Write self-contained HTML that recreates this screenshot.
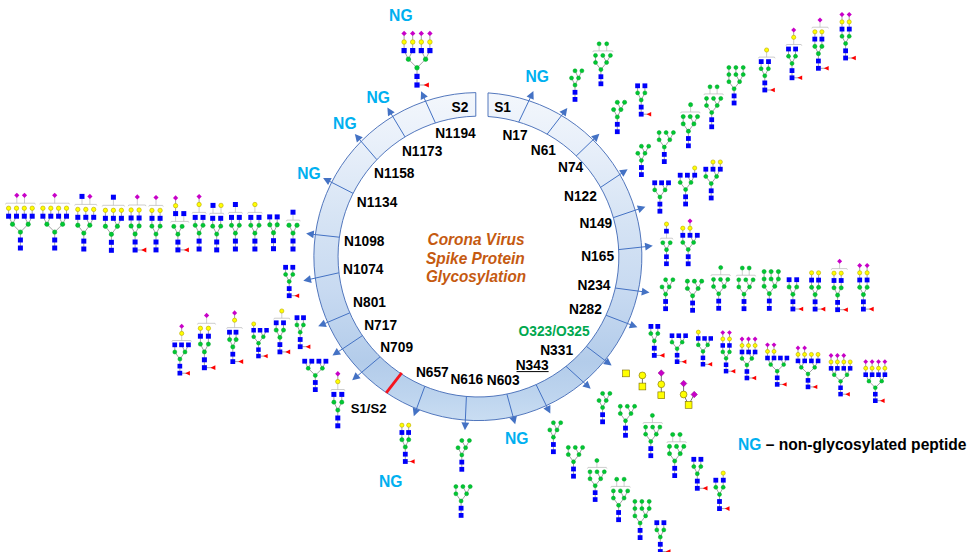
<!DOCTYPE html><html><head><meta charset="utf-8"><style>html,body{margin:0;padding:0;background:#fff;overflow:hidden}svg{display:block}text{font-kerning:none}</style></head><body><svg width="979" height="552" viewBox="0 0 979 552" font-family="'Liberation Sans', sans-serif"><defs><linearGradient id="rg" x1="0" y1="0" x2="0" y2="1"><stop offset="0" stop-color="#f3f7fc"/><stop offset="0.15" stop-color="#e9f0fa"/><stop offset="0.4" stop-color="#d5e3f4"/><stop offset="0.6" stop-color="#c8daf1"/><stop offset="0.82" stop-color="#b3ccea"/><stop offset="0.92" stop-color="#bdd4ee"/><stop offset="1" stop-color="#c9ddf2"/></linearGradient></defs>
<path d="M488 92.9 A164.0 164.0 0 1 1 475.8 92.6 L475.8 116.2 A140.4 140.4 0 1 0 488 116.5 Z" fill="url(#rg)" stroke="#4169b5" stroke-width="0.9" stroke-linejoin="miter"/>
<path d="M435.4 122.9L423.8 97.3" stroke="#4472c4" stroke-width="1"/>
<path d="M421.1 91.2L427.8 96.6L420.7 99.9Z" fill="#4472c4"/>
<path d="M405 136.9L390.9 113.4" stroke="#4472c4" stroke-width="1"/>
<path d="M387.4 107.6L394.7 112.2L388 116.2Z" fill="#4472c4"/>
<path d="M376.8 159.6L359.2 139.1" stroke="#4472c4" stroke-width="1"/>
<path d="M354.8 134.1L362.8 137.3L356.9 142.4Z" fill="#4472c4"/>
<path d="M353 193.3L329 181" stroke="#4472c4" stroke-width="1"/>
<path d="M323.1 177.9L331.7 178L328.1 184.9Z" fill="#4472c4"/>
<path d="M339.2 237.2L312.8 234.3" stroke="#4472c4" stroke-width="1"/>
<path d="M306.1 233.5L314.2 230.5L313.3 238.3Z" fill="#4472c4"/>
<path d="M338.8 272.8L309.9 279.3" stroke="#4472c4" stroke-width="1"/>
<path d="M303.3 280.7L310 275.2L311.7 282.9Z" fill="#4472c4"/>
<path d="M349.7 312.9L324.4 323.7" stroke="#4472c4" stroke-width="1"/>
<path d="M318.2 326.3L323.8 319.7L326.8 326.9Z" fill="#4472c4"/>
<path d="M362.3 335.7L338 351.9" stroke="#4472c4" stroke-width="1"/>
<path d="M332.5 355.6L336.7 348.1L341 354.6Z" fill="#4472c4"/>
<path d="M380 356.9L357.3 376" stroke="#4472c4" stroke-width="1"/>
<path d="M352.2 380.3L355.5 372.3L360.6 378.3Z" fill="#4472c4"/>
<path d="M424.8 386.4L416.1 409.9" stroke="#4472c4" stroke-width="1"/>
<path d="M413.8 416.2L412.8 407.6L420.1 410.3Z" fill="#4472c4"/>
<path d="M466.4 396.5L465.2 423.5" stroke="#4472c4" stroke-width="1"/>
<path d="M464.9 430.2L461.4 422.3L469.2 422.7Z" fill="#4472c4"/>
<path d="M506.9 394.1L513.4 417.8" stroke="#4472c4" stroke-width="1"/>
<path d="M515.2 424.2L509.4 417.9L516.9 415.8Z" fill="#4472c4"/>
<path d="M536.1 384.6L547.3 407.6" stroke="#4472c4" stroke-width="1"/>
<path d="M550.3 413.6L543.4 408.4L550.4 405Z" fill="#4472c4"/>
<path d="M566 366.3L585.8 384.3" stroke="#4472c4" stroke-width="1"/>
<path d="M590.7 388.8L582.4 386.5L587.6 380.7Z" fill="#4472c4"/>
<path d="M586.3 346.3L606.2 361.4" stroke="#4472c4" stroke-width="1"/>
<path d="M611.6 365.4L603.1 363.9L607.8 357.7Z" fill="#4472c4"/>
<path d="M605.9 315.2L631.2 324.9" stroke="#4472c4" stroke-width="1"/>
<path d="M637.4 327.3L628.8 328.2L631.6 320.9Z" fill="#4472c4"/>
<path d="M615.1 288L642.8 291.7" stroke="#4472c4" stroke-width="1"/>
<path d="M649.5 292.6L641.3 295.4L642.4 287.7Z" fill="#4472c4"/>
<path d="M618.5 249.6L646.1 246.6" stroke="#4472c4" stroke-width="1"/>
<path d="M652.8 245.8L645.6 250.5L644.7 242.8Z" fill="#4472c4"/>
<path d="M613.2 217.7L639.1 208.9" stroke="#4472c4" stroke-width="1"/>
<path d="M645.4 206.7L639.4 212.9L636.9 205.5Z" fill="#4472c4"/>
<path d="M600.5 187.4L622.1 173" stroke="#4472c4" stroke-width="1"/>
<path d="M627.6 169.3L623.4 176.8L619.1 170.3Z" fill="#4472c4"/>
<path d="M576.2 156L594.5 138.4" stroke="#4472c4" stroke-width="1"/>
<path d="M599.4 133.8L596.5 141.9L591.1 136.3Z" fill="#4472c4"/>
<path d="M547.1 134.2L563.2 113.4" stroke="#4472c4" stroke-width="1"/>
<path d="M567.3 108.1L565.7 116.6L559.5 111.8Z" fill="#4472c4"/>
<path d="M518.7 122.1L530.6 97.2" stroke="#4472c4" stroke-width="1"/>
<path d="M533.4 91.1L533.7 99.8L526.6 96.4Z" fill="#4472c4"/>
<path d="M401.7 372.8L386.2 392.9" stroke="#f5141e" stroke-width="2.8"/>
<text transform="translate(435.2 138.1) scale(1 1.09)" font-size="13.75" fill="#000" font-weight="bold" text-anchor="start"  >N1194</text>
<text transform="translate(401.9 156.4) scale(1 1.09)" font-size="13.75" fill="#000" font-weight="bold" text-anchor="start"  >N1173</text>
<text transform="translate(374 177.9) scale(1 1.09)" font-size="13.75" fill="#000" font-weight="bold" text-anchor="start"  >N1158</text>
<text transform="translate(356.8 207.2) scale(1 1.09)" font-size="13.75" fill="#000" font-weight="bold" text-anchor="start"  >N1134</text>
<text transform="translate(344 246) scale(1 1.09)" font-size="13.75" fill="#000" font-weight="bold" text-anchor="start"  >N1098</text>
<text transform="translate(343 273.7) scale(1 1.09)" font-size="13.75" fill="#000" font-weight="bold" text-anchor="start"  >N1074</text>
<text transform="translate(353.1 306.9) scale(1 1.09)" font-size="13.75" fill="#000" font-weight="bold" text-anchor="start"  >N801</text>
<text transform="translate(364.2 330.4) scale(1 1.09)" font-size="13.75" fill="#000" font-weight="bold" text-anchor="start"  >N717</text>
<text transform="translate(380.2 351.8) scale(1 1.09)" font-size="13.75" fill="#000" font-weight="bold" text-anchor="start"  >N709</text>
<text transform="translate(415.9 376.6) scale(1 1.09)" font-size="13.75" fill="#000" font-weight="bold" text-anchor="start"  >N657</text>
<text transform="translate(450.4 384.2) scale(1 1.09)" font-size="13.75" fill="#000" font-weight="bold" text-anchor="start"  >N616</text>
<text transform="translate(486.8 384.7) scale(1 1.09)" font-size="13.75" fill="#000" font-weight="bold" text-anchor="start"  >N603</text>
<text transform="translate(515.7 370) scale(1 1.09)" font-size="13.75" fill="#000" font-weight="bold" text-anchor="start"  >N343</text>
<text transform="translate(540.2 354.8) scale(1 1.09)" font-size="13.75" fill="#000" font-weight="bold" text-anchor="start"  >N331</text>
<text transform="translate(569 314) scale(1 1.09)" font-size="13.75" fill="#000" font-weight="bold" text-anchor="start"  >N282</text>
<text transform="translate(577.6 290) scale(1 1.09)" font-size="13.75" fill="#000" font-weight="bold" text-anchor="start"  >N234</text>
<text transform="translate(581.2 260.7) scale(1 1.09)" font-size="13.75" fill="#000" font-weight="bold" text-anchor="start"  >N165</text>
<text transform="translate(579.4 228.4) scale(1 1.09)" font-size="13.75" fill="#000" font-weight="bold" text-anchor="start"  >N149</text>
<text transform="translate(564 200.5) scale(1 1.09)" font-size="13.75" fill="#000" font-weight="bold" text-anchor="start"  >N122</text>
<text transform="translate(558 171.6) scale(1 1.09)" font-size="13.75" fill="#000" font-weight="bold" text-anchor="start"  >N74</text>
<text transform="translate(530.8 154.8) scale(1 1.09)" font-size="13.75" fill="#000" font-weight="bold" text-anchor="start"  >N61</text>
<text transform="translate(502.4 140.3) scale(1 1.09)" font-size="13.75" fill="#000" font-weight="bold" text-anchor="start"  >N17</text>
<text transform="translate(494.2 111.9) scale(1 1.09)" font-size="13.75" fill="#000" font-weight="bold" text-anchor="start"  >S1</text>
<text transform="translate(451.6 111.9) scale(1 1.09)" font-size="13.75" fill="#000" font-weight="bold" text-anchor="start"  >S2</text>
<text transform="translate(350.8 413.1) scale(1 1.0)" font-size="13.1" fill="#000" font-weight="bold" text-anchor="start"  >S1/S2</text>
<path d="M516.5 371.6H548.6" stroke="#000" stroke-width="1"/>
<text transform="translate(518.6 335.7) scale(1 1.09)" font-size="13.75" fill="#00a84f" font-weight="bold" text-anchor="start"  >O323/O325</text>
<text transform="translate(476 244.8) scale(1 1.09)" font-size="15.45" fill="#c55a11" font-weight="bold" text-anchor="middle" font-style="italic" >Corona Virus</text>
<text transform="translate(475.4 263.6) scale(1 1.09)" font-size="15.45" fill="#c55a11" font-weight="bold" text-anchor="middle" font-style="italic" >Spike Protein</text>
<text transform="translate(476 282.4) scale(1 1.09)" font-size="15.28" fill="#c55a11" font-weight="bold" text-anchor="middle" font-style="italic" >Glycosylation</text>
<text transform="translate(389.1 20.5) scale(1 1.03)" font-size="15.65" fill="#00b0f0" font-weight="bold" text-anchor="start"  >NG</text>
<text transform="translate(366.5 103.1) scale(1 1.03)" font-size="15.65" fill="#00b0f0" font-weight="bold" text-anchor="start"  >NG</text>
<text transform="translate(333.1 129.4) scale(1 1.03)" font-size="15.65" fill="#00b0f0" font-weight="bold" text-anchor="start"  >NG</text>
<text transform="translate(297.3 178.9) scale(1 1.03)" font-size="15.65" fill="#00b0f0" font-weight="bold" text-anchor="start"  >NG</text>
<text transform="translate(525.5 82.2) scale(1 1.03)" font-size="15.65" fill="#00b0f0" font-weight="bold" text-anchor="start"  >NG</text>
<text transform="translate(378.9 487) scale(1 1.03)" font-size="15.65" fill="#00b0f0" font-weight="bold" text-anchor="start"  >NG</text>
<text transform="translate(505 444.2) scale(1 1.03)" font-size="15.65" fill="#00b0f0" font-weight="bold" text-anchor="start"  >NG</text>
<text transform="translate(738 450.3) scale(1 1.1)" font-size="15.6" font-weight="bold"><tspan fill="#00b0f0">NG</tspan> – non-glycosylated peptide</text>
<path d="M417 85L417 67.8M417 85L426.3 85M417 67.8L408.4 59.2M417 67.8L425.6 59.2M408.4 59.2L404.1 50.6M404.1 50.6L404.1 33.4M408.4 59.2L412.7 50.6M412.7 50.6L412.7 33.4M425.6 59.2L421.3 50.6M421.3 50.6L421.3 33.4M425.6 59.2L429.9 50.6M429.9 50.6L429.9 33.4" stroke="#8c8c8c" stroke-width="0.8" fill="none"/><rect x="414.4" y="82.4" width="5.2" height="5.2" fill="#0000fa"/><rect x="414.4" y="73.8" width="5.2" height="5.2" fill="#0000fa"/><circle cx="417" cy="67.8" r="2.3" fill="#00c832" stroke="#00a028" stroke-width="0.5"/><path d="M423.7 85L428.9 82.5L428.9 87.5Z" fill="#ff0000"/><rect x="401.5" y="48" width="5.2" height="5.2" fill="#0000fa"/><circle cx="404.1" cy="42" r="2.3" fill="#ffff00" stroke="#b8a800" stroke-width="0.6"/><path d="M404.1 30.7L406.8 33.4L404.1 36.1L401.4 33.4Z" fill="#c800c8"/><rect x="410.1" y="48" width="5.2" height="5.2" fill="#0000fa"/><circle cx="412.7" cy="42" r="2.3" fill="#ffff00" stroke="#b8a800" stroke-width="0.6"/><path d="M412.7 30.7L415.4 33.4L412.7 36.1L410 33.4Z" fill="#c800c8"/><rect x="418.7" y="48" width="5.2" height="5.2" fill="#0000fa"/><circle cx="421.3" cy="42" r="2.3" fill="#ffff00" stroke="#b8a800" stroke-width="0.6"/><path d="M421.3 30.7L424 33.4L421.3 36.1L418.6 33.4Z" fill="#c800c8"/><rect x="427.3" y="48" width="5.2" height="5.2" fill="#0000fa"/><circle cx="429.9" cy="42" r="2.3" fill="#ffff00" stroke="#b8a800" stroke-width="0.6"/><path d="M429.9 30.7L432.6 33.4L429.9 36.1L427.2 33.4Z" fill="#c800c8"/><circle cx="408.4" cy="59.2" r="2.3" fill="#00c832" stroke="#00a028" stroke-width="0.5"/><circle cx="425.6" cy="59.2" r="2.3" fill="#00c832" stroke="#00a028" stroke-width="0.5"/>
<path d="M20.4 248L20.4 232.1M20.4 232.1L12.5 224.2M20.4 232.1L28.2 224.2M12.5 224.2L8.6 216.2M8.6 216.2L8.6 208.2M12.5 224.2L16.5 216.2M16.5 216.2L16.5 208.2M28.2 224.2L24.3 216.2M24.3 216.2L24.3 208.2M28.2 224.2L32.2 216.2M32.2 216.2L32.2 208.2" stroke="#8c8c8c" stroke-width="0.8" fill="none"/><path d="M6.1 203.2L34.7 203.2M6.1 203.2L5.5 204.4M34.7 203.2L35.3 204.4M16.8 203.2L16.8 195.3M24.5 203.2L24.5 195.3" stroke="#b8b8b8" stroke-width="0.7" fill="none"/><rect x="17.9" y="245.5" width="5" height="5" fill="#0000fa"/><rect x="17.9" y="237.5" width="5" height="5" fill="#0000fa"/><circle cx="20.4" cy="232.1" r="2.2" fill="#00c832" stroke="#00a028" stroke-width="0.5"/><rect x="6.1" y="213.7" width="5" height="5" fill="#0000fa"/><circle cx="8.6" cy="208.2" r="2.2" fill="#ffff00" stroke="#b8a800" stroke-width="0.6"/><rect x="14" y="213.7" width="5" height="5" fill="#0000fa"/><circle cx="16.5" cy="208.2" r="2.2" fill="#ffff00" stroke="#b8a800" stroke-width="0.6"/><rect x="21.8" y="213.7" width="5" height="5" fill="#0000fa"/><circle cx="24.3" cy="208.2" r="2.2" fill="#ffff00" stroke="#b8a800" stroke-width="0.6"/><rect x="29.7" y="213.7" width="5" height="5" fill="#0000fa"/><circle cx="32.2" cy="208.2" r="2.2" fill="#ffff00" stroke="#b8a800" stroke-width="0.6"/><circle cx="12.5" cy="224.2" r="2.2" fill="#00c832" stroke="#00a028" stroke-width="0.5"/><circle cx="28.2" cy="224.2" r="2.2" fill="#00c832" stroke="#00a028" stroke-width="0.5"/><path d="M16.8 192.7L19.4 195.3L16.8 197.9L14.2 195.3Z" fill="#c800c8"/><path d="M24.5 192.7L27.1 195.3L24.5 197.9L21.9 195.3Z" fill="#c800c8"/>
<path d="M54.7 248L54.7 232.1M54.7 232.1L46.9 224.2M54.7 232.1L62.6 224.2M46.9 224.2L42.9 216.2M42.9 216.2L42.9 208.2M46.9 224.2L50.8 216.2M50.8 216.2L50.8 208.2M62.6 224.2L58.6 216.2M58.6 216.2L58.6 208.2M62.6 224.2L66.5 216.2M66.5 216.2L66.5 208.2" stroke="#8c8c8c" stroke-width="0.8" fill="none"/><path d="M40.4 203.2L69 203.2M40.4 203.2L39.8 204.4M69 203.2L69.6 204.4M54.7 203.2L54.7 195.3" stroke="#b8b8b8" stroke-width="0.7" fill="none"/><rect x="52.2" y="245.5" width="5" height="5" fill="#0000fa"/><rect x="52.2" y="237.5" width="5" height="5" fill="#0000fa"/><circle cx="54.7" cy="232.1" r="2.2" fill="#00c832" stroke="#00a028" stroke-width="0.5"/><rect x="40.4" y="213.7" width="5" height="5" fill="#0000fa"/><circle cx="42.9" cy="208.2" r="2.2" fill="#ffff00" stroke="#b8a800" stroke-width="0.6"/><rect x="48.3" y="213.7" width="5" height="5" fill="#0000fa"/><circle cx="50.8" cy="208.2" r="2.2" fill="#ffff00" stroke="#b8a800" stroke-width="0.6"/><rect x="56.1" y="213.7" width="5" height="5" fill="#0000fa"/><circle cx="58.6" cy="208.2" r="2.2" fill="#ffff00" stroke="#b8a800" stroke-width="0.6"/><rect x="64" y="213.7" width="5" height="5" fill="#0000fa"/><circle cx="66.5" cy="208.2" r="2.2" fill="#ffff00" stroke="#b8a800" stroke-width="0.6"/><circle cx="46.9" cy="224.2" r="2.2" fill="#00c832" stroke="#00a028" stroke-width="0.5"/><circle cx="62.6" cy="224.2" r="2.2" fill="#00c832" stroke="#00a028" stroke-width="0.5"/><path d="M54.7 192.7L57.3 195.3L54.7 197.9L52.1 195.3Z" fill="#c800c8"/>
<path d="M83.8 249L83.8 233.1M83.8 233.1L77.8 225.2M83.8 233.1L89.8 225.2M77.8 225.2L77.8 217.3M77.8 217.3L77.8 209.4M89.8 225.2L85.8 217.3M85.8 217.3L85.8 209.4M89.8 225.2L93.7 217.3M93.7 217.3L93.7 209.4" stroke="#8c8c8c" stroke-width="0.8" fill="none"/><path d="M75.3 204.4L96.3 204.4M75.3 204.4L74.7 205.6M96.3 204.4L96.9 205.6M82 204.4L82 196.4M89.9 204.4L89.9 196.4" stroke="#b8b8b8" stroke-width="0.7" fill="none"/><rect x="81.3" y="246.5" width="5" height="5" fill="#0000fa"/><rect x="81.3" y="238.6" width="5" height="5" fill="#0000fa"/><circle cx="83.8" cy="233.1" r="2.2" fill="#00c832" stroke="#00a028" stroke-width="0.5"/><rect x="75.3" y="214.8" width="5" height="5" fill="#0000fa"/><circle cx="77.8" cy="209.4" r="2.2" fill="#ffff00" stroke="#b8a800" stroke-width="0.6"/><rect x="83.3" y="214.8" width="5" height="5" fill="#0000fa"/><circle cx="85.8" cy="209.4" r="2.2" fill="#ffff00" stroke="#b8a800" stroke-width="0.6"/><rect x="91.2" y="214.8" width="5" height="5" fill="#0000fa"/><circle cx="93.7" cy="209.4" r="2.2" fill="#ffff00" stroke="#b8a800" stroke-width="0.6"/><circle cx="77.8" cy="225.2" r="2.2" fill="#00c832" stroke="#00a028" stroke-width="0.5"/><circle cx="89.8" cy="225.2" r="2.2" fill="#00c832" stroke="#00a028" stroke-width="0.5"/><rect x="79.5" y="193.9" width="5" height="5" fill="#0000fa"/><path d="M89.9 193.8L92.5 196.4L89.9 199.1L87.3 196.4Z" fill="#c800c8"/>
<path d="M111.4 250.3L111.4 234.3M111.4 234.3L105.4 226.3M111.4 234.3L117.4 226.3M105.4 226.3L105.4 218.3M105.4 218.3L105.4 210.3M117.4 226.3L113.4 218.3M113.4 218.3L113.4 210.3M117.4 226.3L121.4 218.3M121.4 218.3L121.4 210.3" stroke="#8c8c8c" stroke-width="0.8" fill="none"/><path d="M102.8 205.3L124 205.3M102.8 205.3L102.2 206.5M124 205.3L124.6 206.5M113.4 205.3L113.4 197.3" stroke="#b8b8b8" stroke-width="0.7" fill="none"/><rect x="108.9" y="247.8" width="5" height="5" fill="#0000fa"/><rect x="108.9" y="239.8" width="5" height="5" fill="#0000fa"/><circle cx="111.4" cy="234.3" r="2.2" fill="#00c832" stroke="#00a028" stroke-width="0.5"/><rect x="102.9" y="215.8" width="5" height="5" fill="#0000fa"/><circle cx="105.4" cy="210.3" r="2.2" fill="#ffff00" stroke="#b8a800" stroke-width="0.6"/><rect x="110.9" y="215.8" width="5" height="5" fill="#0000fa"/><circle cx="113.4" cy="210.3" r="2.2" fill="#ffff00" stroke="#b8a800" stroke-width="0.6"/><rect x="118.9" y="215.8" width="5" height="5" fill="#0000fa"/><circle cx="121.4" cy="210.3" r="2.2" fill="#ffff00" stroke="#b8a800" stroke-width="0.6"/><circle cx="105.4" cy="226.3" r="2.2" fill="#00c832" stroke="#00a028" stroke-width="0.5"/><circle cx="117.4" cy="226.3" r="2.2" fill="#00c832" stroke="#00a028" stroke-width="0.5"/><rect x="110.9" y="194.7" width="5" height="5" fill="#0000fa"/>
<path d="M135.1 250L135.1 234M135.1 250L143.7 250M135.1 234L131.1 226M135.1 234L139.1 226M131.1 226L131.1 218M131.1 218L131.1 210M139.1 226L139.1 218M139.1 218L139.1 210" stroke="#8c8c8c" stroke-width="0.8" fill="none"/><path d="M128.8 205L145.4 205M128.8 205L128.2 206.2M145.4 205L146 206.2M137.3 205L137.3 197" stroke="#b8b8b8" stroke-width="0.7" fill="none"/><rect x="132.6" y="247.5" width="5" height="5" fill="#0000fa"/><rect x="132.6" y="239.5" width="5" height="5" fill="#0000fa"/><circle cx="135.1" cy="234" r="2.2" fill="#00c832" stroke="#00a028" stroke-width="0.5"/><path d="M141.2 250L146.3 247.6L146.3 252.4Z" fill="#ff0000"/><rect x="128.6" y="215.5" width="5" height="5" fill="#0000fa"/><circle cx="131.1" cy="210" r="2.2" fill="#ffff00" stroke="#b8a800" stroke-width="0.6"/><rect x="136.6" y="215.5" width="5" height="5" fill="#0000fa"/><circle cx="139.1" cy="210" r="2.2" fill="#ffff00" stroke="#b8a800" stroke-width="0.6"/><circle cx="131.1" cy="226" r="2.2" fill="#00c832" stroke="#00a028" stroke-width="0.5"/><circle cx="139.1" cy="226" r="2.2" fill="#00c832" stroke="#00a028" stroke-width="0.5"/><path d="M137.3 194.3L139.9 197L137.3 199.6L134.7 197Z" fill="#c800c8"/>
<path d="M156 249.9L156 234.1M156 234.1L151.9 226.2M156 234.1L160.1 226.2M151.9 226.2L151.9 218.3M151.9 218.3L151.9 210.4M160.1 226.2L160.1 218.3M160.1 218.3L160.1 210.4" stroke="#8c8c8c" stroke-width="0.8" fill="none"/><path d="M149.4 205.4L162.6 205.4M149.4 205.4L148.8 206.6M162.6 205.4L163.2 206.6M156 205.4L156 197.5" stroke="#b8b8b8" stroke-width="0.7" fill="none"/><rect x="153.5" y="247.4" width="5" height="5" fill="#0000fa"/><rect x="153.5" y="239.5" width="5" height="5" fill="#0000fa"/><circle cx="156" cy="234.1" r="2.1" fill="#00c832" stroke="#00a028" stroke-width="0.5"/><rect x="149.5" y="215.8" width="5" height="5" fill="#0000fa"/><circle cx="151.9" cy="210.4" r="2.2" fill="#ffff00" stroke="#b8a800" stroke-width="0.6"/><rect x="157.6" y="215.8" width="5" height="5" fill="#0000fa"/><circle cx="160.1" cy="210.4" r="2.2" fill="#ffff00" stroke="#b8a800" stroke-width="0.6"/><circle cx="151.9" cy="226.2" r="2.1" fill="#00c832" stroke="#00a028" stroke-width="0.5"/><circle cx="160.1" cy="226.2" r="2.1" fill="#00c832" stroke="#00a028" stroke-width="0.5"/><path d="M156 194.9L158.6 197.5L156 200.1L153.4 197.5Z" fill="#c800c8"/>
<path d="M177.9 249.9L177.9 234.2M177.9 249.9L186.4 249.9M177.9 234.2L173.8 226.4M177.9 234.2L182.1 226.4M175.6 213.6L175.6 197.9" stroke="#8c8c8c" stroke-width="0.8" fill="none"/><path d="M171.3 221.4L188.3 221.4M171.3 221.4L170.7 222.6M188.3 221.4L188.9 222.6M175.6 221.4L175.6 213.6M183.8 221.4L183.8 213.6" stroke="#b8b8b8" stroke-width="0.7" fill="none"/><rect x="175.4" y="247.4" width="5" height="5" fill="#0000fa"/><rect x="175.4" y="239.6" width="5" height="5" fill="#0000fa"/><circle cx="177.9" cy="234.2" r="2.1" fill="#00c832" stroke="#00a028" stroke-width="0.5"/><path d="M183.9 249.9L188.9 247.5L188.9 252.3Z" fill="#ff0000"/><circle cx="173.8" cy="226.4" r="2.1" fill="#00c832" stroke="#00a028" stroke-width="0.5"/><circle cx="182.1" cy="226.4" r="2.1" fill="#00c832" stroke="#00a028" stroke-width="0.5"/><rect x="173.1" y="211.1" width="5" height="5" fill="#0000fa"/><circle cx="175.6" cy="205.7" r="2.2" fill="#ffff00" stroke="#b8a800" stroke-width="0.6"/><path d="M175.6 195.2L178.2 197.9L175.6 200.5L173 197.9Z" fill="#c800c8"/><rect x="181.3" y="211.1" width="5" height="5" fill="#0000fa"/>
<path d="M199.1 249L199.1 233.2M199.1 233.2L195.2 225.3M199.1 233.2L203 225.3M195.2 225.3L195.2 217.4M203 225.3L203 217.4M199.1 204.5L199.1 196.6" stroke="#8c8c8c" stroke-width="0.8" fill="none"/><path d="M192.7 212.4L205.5 212.4M192.7 212.4L192.1 213.6M205.5 212.4L206.1 213.6M199.1 212.4L199.1 204.5" stroke="#b8b8b8" stroke-width="0.7" fill="none"/><rect x="196.6" y="246.5" width="5" height="5" fill="#0000fa"/><rect x="196.6" y="238.6" width="5" height="5" fill="#0000fa"/><circle cx="199.1" cy="233.2" r="2.1" fill="#00c832" stroke="#00a028" stroke-width="0.5"/><rect x="192.7" y="214.9" width="5" height="5" fill="#0000fa"/><rect x="200.5" y="214.9" width="5" height="5" fill="#0000fa"/><circle cx="195.2" cy="225.3" r="2.1" fill="#00c832" stroke="#00a028" stroke-width="0.5"/><circle cx="203" cy="225.3" r="2.1" fill="#00c832" stroke="#00a028" stroke-width="0.5"/><circle cx="199.1" cy="204.5" r="2.2" fill="#ffff00" stroke="#b8a800" stroke-width="0.6"/><path d="M199.1 194L201.7 196.6L199.1 199.2L196.5 196.6Z" fill="#c800c8"/>
<path d="M216.7 249.9L216.7 234.1M216.7 234.1L212.7 226.2M216.7 234.1L220.7 226.2M212.7 226.2L212.7 218.3M220.7 226.2L220.7 218.3" stroke="#8c8c8c" stroke-width="0.8" fill="none"/><path d="M210.1 213.3L223.3 213.3M210.1 213.3L209.5 214.5M223.3 213.3L223.9 214.5M213 213.3L213 205.4M221 213.3L221 205.4" stroke="#b8b8b8" stroke-width="0.7" fill="none"/><rect x="214.2" y="247.4" width="5" height="5" fill="#0000fa"/><rect x="214.2" y="239.5" width="5" height="5" fill="#0000fa"/><circle cx="216.7" cy="234.1" r="2.1" fill="#00c832" stroke="#00a028" stroke-width="0.5"/><rect x="210.2" y="215.8" width="5" height="5" fill="#0000fa"/><rect x="218.2" y="215.8" width="5" height="5" fill="#0000fa"/><circle cx="212.7" cy="226.2" r="2.1" fill="#00c832" stroke="#00a028" stroke-width="0.5"/><circle cx="220.7" cy="226.2" r="2.1" fill="#00c832" stroke="#00a028" stroke-width="0.5"/><rect x="210.5" y="202.9" width="5" height="5" fill="#0000fa"/><circle cx="221" cy="205.4" r="2.2" fill="#ffff00" stroke="#b8a800" stroke-width="0.6"/>
<path d="M235.4 249L235.4 233.2M235.4 233.2L231.5 225.3M235.4 233.2L239.3 225.3M231.5 225.3L231.5 217.4M239.3 225.3L239.3 217.4" stroke="#8c8c8c" stroke-width="0.8" fill="none"/><path d="M229 212.4L241.8 212.4M229 212.4L228.4 213.6M241.8 212.4L242.4 213.6M235.4 212.4L235.4 204.5" stroke="#b8b8b8" stroke-width="0.7" fill="none"/><rect x="232.9" y="246.5" width="5" height="5" fill="#0000fa"/><rect x="232.9" y="238.6" width="5" height="5" fill="#0000fa"/><circle cx="235.4" cy="233.2" r="2.1" fill="#00c832" stroke="#00a028" stroke-width="0.5"/><rect x="229" y="214.9" width="5" height="5" fill="#0000fa"/><rect x="236.8" y="214.9" width="5" height="5" fill="#0000fa"/><circle cx="231.5" cy="225.3" r="2.1" fill="#00c832" stroke="#00a028" stroke-width="0.5"/><circle cx="239.3" cy="225.3" r="2.1" fill="#00c832" stroke="#00a028" stroke-width="0.5"/><rect x="232.9" y="202" width="5" height="5" fill="#0000fa"/>
<path d="M254.9 249L254.9 233.2M254.9 233.2L250.8 225.3M254.9 233.2L259 225.3M250.8 225.3L250.8 217.4M259 225.3L259 217.4" stroke="#8c8c8c" stroke-width="0.8" fill="none"/><path d="M248.2 212.4L261.6 212.4M248.2 212.4L247.6 213.6M261.6 212.4L262.2 213.6M254.9 212.4L254.9 204.5" stroke="#b8b8b8" stroke-width="0.7" fill="none"/><rect x="252.4" y="246.5" width="5" height="5" fill="#0000fa"/><rect x="252.4" y="238.6" width="5" height="5" fill="#0000fa"/><circle cx="254.9" cy="233.2" r="2.1" fill="#00c832" stroke="#00a028" stroke-width="0.5"/><rect x="248.3" y="214.9" width="5" height="5" fill="#0000fa"/><rect x="256.5" y="214.9" width="5" height="5" fill="#0000fa"/><circle cx="250.8" cy="225.3" r="2.1" fill="#00c832" stroke="#00a028" stroke-width="0.5"/><circle cx="259" cy="225.3" r="2.1" fill="#00c832" stroke="#00a028" stroke-width="0.5"/><circle cx="254.9" cy="204.5" r="2.2" fill="#ffff00" stroke="#b8a800" stroke-width="0.6"/>
<path d="M273.5 248.7L273.5 232.8M273.5 232.8L269.8 224.8M273.5 232.8L277.2 224.8M269.8 224.8L269.8 216.9M277.2 224.8L277.2 216.9" stroke="#8c8c8c" stroke-width="0.8" fill="none"/><rect x="271" y="246.2" width="5" height="5" fill="#0000fa"/><rect x="271" y="238.2" width="5" height="5" fill="#0000fa"/><circle cx="273.5" cy="232.8" r="2.2" fill="#00c832" stroke="#00a028" stroke-width="0.5"/><rect x="267.2" y="214.4" width="5" height="5" fill="#0000fa"/><rect x="274.7" y="214.4" width="5" height="5" fill="#0000fa"/><circle cx="269.8" cy="224.8" r="2.2" fill="#00c832" stroke="#00a028" stroke-width="0.5"/><circle cx="277.2" cy="224.8" r="2.2" fill="#00c832" stroke="#00a028" stroke-width="0.5"/>
<path d="M293 249L293 233.1M293 233.1L289 225.2M293 233.1L297 225.2" stroke="#8c8c8c" stroke-width="0.8" fill="none"/><path d="M286.9 220.1L299.6 220.1M286.9 220.1L286.3 221.3M299.6 220.1L300.2 221.3M293 220.1L293 212.2" stroke="#b8b8b8" stroke-width="0.7" fill="none"/><rect x="290.5" y="246.5" width="5" height="5" fill="#0000fa"/><rect x="290.5" y="238.5" width="5" height="5" fill="#0000fa"/><circle cx="293" cy="233.1" r="2.2" fill="#00c832" stroke="#00a028" stroke-width="0.5"/><circle cx="289" cy="225.2" r="2.2" fill="#00c832" stroke="#00a028" stroke-width="0.5"/><circle cx="297" cy="225.2" r="2.2" fill="#00c832" stroke="#00a028" stroke-width="0.5"/><rect x="290.5" y="209.7" width="5" height="5" fill="#0000fa"/>
<path d="M289.2 295.7L289.2 281.5M289.2 295.7L296.9 295.7M289.2 281.5L285.6 274.4M289.2 281.5L292.8 274.4M285.6 274.4L285.6 267.3M292.8 274.4L292.8 267.3" stroke="#8c8c8c" stroke-width="0.8" fill="none"/><rect x="286.8" y="293.3" width="4.8" height="4.8" fill="#0000fa"/><rect x="286.8" y="286.2" width="4.8" height="4.8" fill="#0000fa"/><circle cx="289.2" cy="281.5" r="2" fill="#00c832" stroke="#00a028" stroke-width="0.5"/><path d="M294.5 295.7L299.2 293.4L299.2 298Z" fill="#ff0000"/><rect x="283.2" y="264.9" width="4.8" height="4.8" fill="#0000fa"/><rect x="290.4" y="264.9" width="4.8" height="4.8" fill="#0000fa"/><circle cx="285.6" cy="274.4" r="2" fill="#00c832" stroke="#00a028" stroke-width="0.5"/><circle cx="292.8" cy="274.4" r="2" fill="#00c832" stroke="#00a028" stroke-width="0.5"/>
<path d="M300.2 346.7L300.2 332.2M300.2 346.7L308 346.7M300.2 332.2L296.9 324.9M300.2 332.2L303.4 324.9M296.9 324.9L296.9 317.7M303.4 324.9L303.4 317.7" stroke="#8c8c8c" stroke-width="0.8" fill="none"/><rect x="297.8" y="344.3" width="4.8" height="4.8" fill="#0000fa"/><rect x="297.8" y="337.1" width="4.8" height="4.8" fill="#0000fa"/><circle cx="300.2" cy="332.2" r="2" fill="#00c832" stroke="#00a028" stroke-width="0.5"/><path d="M305.6 346.7L310.4 344.4L310.4 349Z" fill="#ff0000"/><rect x="294.6" y="315.3" width="4.8" height="4.8" fill="#0000fa"/><rect x="301.1" y="315.3" width="4.8" height="4.8" fill="#0000fa"/><circle cx="296.9" cy="324.9" r="2" fill="#00c832" stroke="#00a028" stroke-width="0.5"/><circle cx="303.4" cy="324.9" r="2" fill="#00c832" stroke="#00a028" stroke-width="0.5"/>
<path d="M279.9 351.9L279.9 337.4M279.9 351.9L287.8 351.9M279.9 337.4L276.2 330.1M279.9 337.4L283.5 330.1M276.2 330.1L276.2 322.8M283.5 330.1L283.5 322.8" stroke="#8c8c8c" stroke-width="0.8" fill="none"/><path d="M274.4 318.2L289.3 318.2M274.4 318.2L273.8 319.4M289.3 318.2L289.9 319.4M281.8 318.2L281.8 311" stroke="#b8b8b8" stroke-width="0.7" fill="none"/><rect x="277.5" y="349.5" width="4.8" height="4.8" fill="#0000fa"/><rect x="277.5" y="342.2" width="4.8" height="4.8" fill="#0000fa"/><circle cx="279.9" cy="337.4" r="2.1" fill="#00c832" stroke="#00a028" stroke-width="0.5"/><path d="M285.3 351.9L290.2 349.6L290.2 354.2Z" fill="#ff0000"/><rect x="273.8" y="320.4" width="4.8" height="4.8" fill="#0000fa"/><rect x="281.1" y="320.4" width="4.8" height="4.8" fill="#0000fa"/><circle cx="276.2" cy="330.1" r="2.1" fill="#00c832" stroke="#00a028" stroke-width="0.5"/><circle cx="283.5" cy="330.1" r="2.1" fill="#00c832" stroke="#00a028" stroke-width="0.5"/><circle cx="281.8" cy="311" r="2.1" fill="#ffff00" stroke="#b8a800" stroke-width="0.6"/>
<path d="M258.5 356.1L258.5 343.2M258.5 356.1L265.5 356.1M258.5 343.2L253.7 336.8M258.5 343.2L263.3 336.8M253.7 336.8L253.7 330.3M253.7 330.3L253.7 323.9M263.3 336.8L260.1 330.3M263.3 336.8L266.6 330.3" stroke="#8c8c8c" stroke-width="0.8" fill="none"/><rect x="256.2" y="353.8" width="4.5" height="4.5" fill="#0000fa"/><rect x="256.2" y="347.4" width="4.5" height="4.5" fill="#0000fa"/><circle cx="258.5" cy="343.2" r="1.9" fill="#00c832" stroke="#00a028" stroke-width="0.5"/><path d="M263.2 356.1L267.7 353.9L267.7 358.3Z" fill="#ff0000"/><rect x="251.4" y="328" width="4.5" height="4.5" fill="#0000fa"/><circle cx="253.7" cy="323.9" r="2" fill="#ffff00" stroke="#b8a800" stroke-width="0.6"/><rect x="257.8" y="328" width="4.5" height="4.5" fill="#0000fa"/><rect x="264.3" y="328" width="4.5" height="4.5" fill="#0000fa"/><circle cx="253.7" cy="336.8" r="1.9" fill="#00c832" stroke="#00a028" stroke-width="0.5"/><circle cx="263.3" cy="336.8" r="1.9" fill="#00c832" stroke="#00a028" stroke-width="0.5"/>
<path d="M232.8 361.6L232.8 346.9M232.8 361.6L240.7 361.6M232.8 346.9L229.6 339.6M232.8 346.9L236.1 339.6M229.6 339.6L229.6 332.2M236.1 339.6L236.1 332.2M234.6 320.2L234.6 312.9" stroke="#8c8c8c" stroke-width="0.8" fill="none"/><path d="M227.3 327.6L241.8 327.6M227.3 327.6L226.7 328.8M241.8 327.6L242.4 328.8M234.6 327.6L234.6 320.2" stroke="#b8b8b8" stroke-width="0.7" fill="none"/><rect x="230.4" y="359.2" width="4.8" height="4.8" fill="#0000fa"/><rect x="230.4" y="351.8" width="4.8" height="4.8" fill="#0000fa"/><circle cx="232.8" cy="346.9" r="2.1" fill="#00c832" stroke="#00a028" stroke-width="0.5"/><path d="M238.3 361.6L243.2 359.3L243.2 363.9Z" fill="#ff0000"/><rect x="227.1" y="329.8" width="4.8" height="4.8" fill="#0000fa"/><rect x="233.6" y="329.8" width="4.8" height="4.8" fill="#0000fa"/><circle cx="229.6" cy="339.6" r="2.1" fill="#00c832" stroke="#00a028" stroke-width="0.5"/><circle cx="236.1" cy="339.6" r="2.1" fill="#00c832" stroke="#00a028" stroke-width="0.5"/><circle cx="234.6" cy="320.2" r="2.1" fill="#ffff00" stroke="#b8a800" stroke-width="0.6"/><path d="M234.6 310.3L237.1 312.9L234.6 315.4L232.1 312.9Z" fill="#c800c8"/>
<path d="M204.4 367.7L204.4 351.9M204.4 367.7L212.9 367.7M204.4 351.9L200.4 344.1M204.4 351.9L208.4 344.1M200.4 344.1L200.4 336.2M200.4 336.2L200.4 328.3M208.4 344.1L208.4 336.2M208.4 336.2L208.4 328.3" stroke="#8c8c8c" stroke-width="0.8" fill="none"/><path d="M198 323.3L215 323.3M198 323.3L197.4 324.5M215 323.3L215.6 324.5M206.6 323.3L206.6 315.5" stroke="#b8b8b8" stroke-width="0.7" fill="none"/><rect x="201.9" y="365.2" width="5" height="5" fill="#0000fa"/><rect x="201.9" y="357.3" width="5" height="5" fill="#0000fa"/><circle cx="204.4" cy="351.9" r="2.1" fill="#00c832" stroke="#00a028" stroke-width="0.5"/><path d="M210.4 367.7L215.4 365.3L215.4 370.1Z" fill="#ff0000"/><rect x="197.9" y="333.7" width="5" height="5" fill="#0000fa"/><circle cx="200.4" cy="328.3" r="2.2" fill="#ffff00" stroke="#b8a800" stroke-width="0.6"/><rect x="205.9" y="333.7" width="5" height="5" fill="#0000fa"/><circle cx="208.4" cy="328.3" r="2.2" fill="#ffff00" stroke="#b8a800" stroke-width="0.6"/><circle cx="200.4" cy="344.1" r="2.1" fill="#00c832" stroke="#00a028" stroke-width="0.5"/><circle cx="208.4" cy="344.1" r="2.1" fill="#00c832" stroke="#00a028" stroke-width="0.5"/><path d="M206.6 312.8L209.2 315.5L206.6 318.1L204 315.5Z" fill="#c800c8"/>
<path d="M179.9 373.2L179.9 359.1M179.9 373.2L187.5 373.2M179.9 359.1L174.8 352M179.9 359.1L185 352M174.8 352L174.8 344.9M185 352L181.6 344.9M185 352L188.5 344.9M181.7 333.4L181.7 326.3" stroke="#8c8c8c" stroke-width="0.8" fill="none"/><path d="M172.5 340.5L190.8 340.5M172.5 340.5L171.9 341.7M190.8 340.5L191.4 341.7M181.7 340.5L181.7 333.4" stroke="#b8b8b8" stroke-width="0.7" fill="none"/><rect x="177.5" y="370.8" width="4.7" height="4.7" fill="#0000fa"/><rect x="177.5" y="363.8" width="4.7" height="4.7" fill="#0000fa"/><circle cx="179.9" cy="359.1" r="2" fill="#00c832" stroke="#00a028" stroke-width="0.5"/><path d="M185.2 373.2L189.9 370.9L189.9 375.5Z" fill="#ff0000"/><rect x="172.4" y="342.5" width="4.7" height="4.7" fill="#0000fa"/><rect x="179.2" y="342.5" width="4.7" height="4.7" fill="#0000fa"/><rect x="186.1" y="342.5" width="4.7" height="4.7" fill="#0000fa"/><circle cx="174.8" cy="352" r="2" fill="#00c832" stroke="#00a028" stroke-width="0.5"/><circle cx="185" cy="352" r="2" fill="#00c832" stroke="#00a028" stroke-width="0.5"/><circle cx="181.7" cy="333.4" r="2.1" fill="#ffff00" stroke="#b8a800" stroke-width="0.6"/><path d="M181.7 323.8L184.2 326.3L181.7 328.8L179.2 326.3Z" fill="#c800c8"/>
<path d="M315.3 389.6L315.3 375.4M315.3 375.4L308.2 368.3M315.3 375.4L322.4 368.3M308.2 368.3L304.7 361.2M308.2 368.3L311.8 361.2M322.4 368.3L318.8 361.2M322.4 368.3L325.9 361.2" stroke="#8c8c8c" stroke-width="0.8" fill="none"/><rect x="312.9" y="387.2" width="4.8" height="4.8" fill="#0000fa"/><rect x="312.9" y="380.1" width="4.8" height="4.8" fill="#0000fa"/><circle cx="315.3" cy="375.4" r="2" fill="#00c832" stroke="#00a028" stroke-width="0.5"/><rect x="302.3" y="358.8" width="4.8" height="4.8" fill="#0000fa"/><rect x="309.4" y="358.8" width="4.8" height="4.8" fill="#0000fa"/><rect x="316.5" y="358.8" width="4.8" height="4.8" fill="#0000fa"/><rect x="323.5" y="358.8" width="4.8" height="4.8" fill="#0000fa"/><circle cx="308.2" cy="368.3" r="2" fill="#00c832" stroke="#00a028" stroke-width="0.5"/><circle cx="322.4" cy="368.3" r="2" fill="#00c832" stroke="#00a028" stroke-width="0.5"/>
<path d="M337.8 425.8L337.8 410.1M337.8 410.1L333.9 402.2M337.8 410.1L341.8 402.2M333.9 402.2L333.9 394.4M341.8 402.2L341.8 394.4M337.8 381.6L337.8 373.8" stroke="#8c8c8c" stroke-width="0.8" fill="none"/><path d="M331.6 389.5L344.3 389.5M331.6 389.5L331 390.7M344.3 389.5L344.9 390.7M337.8 389.5L337.8 381.6" stroke="#b8b8b8" stroke-width="0.7" fill="none"/><rect x="335.3" y="423.3" width="5" height="5" fill="#0000fa"/><rect x="335.3" y="415.5" width="5" height="5" fill="#0000fa"/><circle cx="337.8" cy="410.1" r="2.1" fill="#00c832" stroke="#00a028" stroke-width="0.5"/><rect x="331.4" y="391.9" width="5" height="5" fill="#0000fa"/><rect x="339.3" y="391.9" width="5" height="5" fill="#0000fa"/><circle cx="333.9" cy="402.2" r="2.1" fill="#00c832" stroke="#00a028" stroke-width="0.5"/><circle cx="341.8" cy="402.2" r="2.1" fill="#00c832" stroke="#00a028" stroke-width="0.5"/><circle cx="337.8" cy="381.6" r="2.2" fill="#ffff00" stroke="#b8a800" stroke-width="0.6"/><path d="M337.8 371.1L340.4 373.8L337.8 376.4L335.2 373.8Z" fill="#c800c8"/>
<path d="M405.3 461.5L405.3 447M405.3 461.5L412.2 461.5M405.3 447L401.9 439.7M405.3 447L408.7 439.7M401.9 439.7L401.9 432.5M401.9 432.5L401.9 425.2M408.7 439.7L408.7 432.5M408.7 432.5L408.7 425.2" stroke="#8c8c8c" stroke-width="0.8" fill="none"/><rect x="402.9" y="459.1" width="4.8" height="4.8" fill="#0000fa"/><rect x="402.9" y="451.8" width="4.8" height="4.8" fill="#0000fa"/><circle cx="405.3" cy="447" r="2.1" fill="#00c832" stroke="#00a028" stroke-width="0.5"/><path d="M409.8 461.5L414.6 459.2L414.6 463.8Z" fill="#ff0000"/><rect x="399.5" y="430.1" width="4.8" height="4.8" fill="#0000fa"/><circle cx="401.9" cy="425.2" r="2.1" fill="#ffff00" stroke="#b8a800" stroke-width="0.6"/><rect x="406.2" y="430.1" width="4.8" height="4.8" fill="#0000fa"/><circle cx="408.7" cy="425.2" r="2.1" fill="#ffff00" stroke="#b8a800" stroke-width="0.6"/><circle cx="401.9" cy="439.7" r="2.1" fill="#00c832" stroke="#00a028" stroke-width="0.5"/><circle cx="408.7" cy="439.7" r="2.1" fill="#00c832" stroke="#00a028" stroke-width="0.5"/>
<path d="M461.8 469.3L461.8 454.9M461.8 454.9L458 447.7M461.8 454.9L465.6 447.7M465.6 447.7L461.8 440.5M465.6 447.7L469.4 440.5" stroke="#8c8c8c" stroke-width="0.8" fill="none"/><rect x="459.4" y="466.9" width="4.8" height="4.8" fill="#0000fa"/><rect x="459.4" y="459.7" width="4.8" height="4.8" fill="#0000fa"/><circle cx="461.8" cy="454.9" r="2" fill="#00c832" stroke="#00a028" stroke-width="0.5"/><circle cx="458" cy="447.7" r="2" fill="#00c832" stroke="#00a028" stroke-width="0.5"/><circle cx="465.6" cy="447.7" r="2" fill="#00c832" stroke="#00a028" stroke-width="0.5"/><circle cx="461.8" cy="440.5" r="2" fill="#00c832" stroke="#00a028" stroke-width="0.5"/><circle cx="469.4" cy="440.5" r="2" fill="#00c832" stroke="#00a028" stroke-width="0.5"/>
<path d="M461.1 515.4L461.1 501M461.1 501L455.9 493.8M461.1 501L466.6 493.8M455.9 493.8L455.9 486.6M466.6 493.8L462.9 486.6M466.6 493.8L470.2 486.6" stroke="#8c8c8c" stroke-width="0.8" fill="none"/><rect x="458.7" y="513" width="4.8" height="4.8" fill="#0000fa"/><rect x="458.7" y="505.8" width="4.8" height="4.8" fill="#0000fa"/><circle cx="461.1" cy="501" r="2" fill="#00c832" stroke="#00a028" stroke-width="0.5"/><circle cx="455.9" cy="493.8" r="2" fill="#00c832" stroke="#00a028" stroke-width="0.5"/><circle cx="466.6" cy="493.8" r="2" fill="#00c832" stroke="#00a028" stroke-width="0.5"/><circle cx="455.9" cy="486.6" r="2" fill="#00c832" stroke="#00a028" stroke-width="0.5"/><circle cx="462.9" cy="486.6" r="2" fill="#00c832" stroke="#00a028" stroke-width="0.5"/><circle cx="470.2" cy="486.6" r="2" fill="#00c832" stroke="#00a028" stroke-width="0.5"/>
<path d="M553.4 451.7L553.4 437.2M553.4 437.2L549.8 429.9M553.4 437.2L557 429.9M557 429.9L553.4 422.7M557 429.9L560.7 422.7" stroke="#8c8c8c" stroke-width="0.8" fill="none"/><rect x="551" y="449.3" width="4.8" height="4.8" fill="#0000fa"/><rect x="551" y="442.1" width="4.8" height="4.8" fill="#0000fa"/><circle cx="553.4" cy="437.2" r="2" fill="#00c832" stroke="#00a028" stroke-width="0.5"/><circle cx="549.8" cy="429.9" r="2" fill="#00c832" stroke="#00a028" stroke-width="0.5"/><circle cx="557" cy="429.9" r="2" fill="#00c832" stroke="#00a028" stroke-width="0.5"/><circle cx="553.4" cy="422.7" r="2" fill="#00c832" stroke="#00a028" stroke-width="0.5"/><circle cx="560.7" cy="422.7" r="2" fill="#00c832" stroke="#00a028" stroke-width="0.5"/>
<path d="M573.5 476.2L573.5 461.8M573.5 461.8L568.3 454.6M573.5 461.8L579 454.6M568.3 454.6L568.3 447.4M579 454.6L575.3 447.4M579 454.6L582.6 447.4" stroke="#8c8c8c" stroke-width="0.8" fill="none"/><rect x="571.1" y="473.8" width="4.8" height="4.8" fill="#0000fa"/><rect x="571.1" y="466.6" width="4.8" height="4.8" fill="#0000fa"/><circle cx="573.5" cy="461.8" r="2" fill="#00c832" stroke="#00a028" stroke-width="0.5"/><circle cx="568.3" cy="454.6" r="2" fill="#00c832" stroke="#00a028" stroke-width="0.5"/><circle cx="579" cy="454.6" r="2" fill="#00c832" stroke="#00a028" stroke-width="0.5"/><circle cx="568.3" cy="447.4" r="2" fill="#00c832" stroke="#00a028" stroke-width="0.5"/><circle cx="575.3" cy="447.4" r="2" fill="#00c832" stroke="#00a028" stroke-width="0.5"/><circle cx="582.6" cy="447.4" r="2" fill="#00c832" stroke="#00a028" stroke-width="0.5"/>
<path d="M595.2 499.6L595.2 485.7M595.2 485.7L590 478.8M595.2 485.7L600.7 478.8M590 478.8L590 471.8M600.7 478.8L597 471.8M600.7 478.8L604.3 471.8" stroke="#8c8c8c" stroke-width="0.8" fill="none"/><path d="M588 467.4L606.3 467.4M588 467.4L587.4 468.6M606.3 467.4L606.9 468.6M596.9 467.4L596.9 460.5" stroke="#b8b8b8" stroke-width="0.7" fill="none"/><rect x="592.8" y="497.2" width="4.7" height="4.7" fill="#0000fa"/><rect x="592.8" y="490.3" width="4.7" height="4.7" fill="#0000fa"/><circle cx="595.2" cy="485.7" r="2" fill="#00c832" stroke="#00a028" stroke-width="0.5"/><circle cx="590" cy="478.8" r="2" fill="#00c832" stroke="#00a028" stroke-width="0.5"/><circle cx="600.7" cy="478.8" r="2" fill="#00c832" stroke="#00a028" stroke-width="0.5"/><circle cx="590" cy="471.8" r="2" fill="#00c832" stroke="#00a028" stroke-width="0.5"/><circle cx="597" cy="471.8" r="2" fill="#00c832" stroke="#00a028" stroke-width="0.5"/><circle cx="604.3" cy="471.8" r="2" fill="#00c832" stroke="#00a028" stroke-width="0.5"/><circle cx="596.9" cy="460.5" r="2" fill="#00c832" stroke="#00a028" stroke-width="0.5"/>
<path d="M618.6 519.7L618.6 505.3M618.6 505.3L613.4 498.1M618.6 505.3L624.1 498.1M613.4 498.1L613.4 490.9M624.1 498.1L620.4 490.9M624.1 498.1L627.7 490.9" stroke="#8c8c8c" stroke-width="0.8" fill="none"/><path d="M611.4 486.4L629.7 486.4M611.4 486.4L610.8 487.6M629.7 486.4L630.3 487.6M616.7 486.4L616.7 479.2M624.1 486.4L624.1 479.2" stroke="#b8b8b8" stroke-width="0.7" fill="none"/><rect x="616.2" y="517.3" width="4.8" height="4.8" fill="#0000fa"/><rect x="616.2" y="510.1" width="4.8" height="4.8" fill="#0000fa"/><circle cx="618.6" cy="505.3" r="2" fill="#00c832" stroke="#00a028" stroke-width="0.5"/><circle cx="613.4" cy="498.1" r="2" fill="#00c832" stroke="#00a028" stroke-width="0.5"/><circle cx="624.1" cy="498.1" r="2" fill="#00c832" stroke="#00a028" stroke-width="0.5"/><circle cx="613.4" cy="490.9" r="2" fill="#00c832" stroke="#00a028" stroke-width="0.5"/><circle cx="620.4" cy="490.9" r="2" fill="#00c832" stroke="#00a028" stroke-width="0.5"/><circle cx="627.7" cy="490.9" r="2" fill="#00c832" stroke="#00a028" stroke-width="0.5"/><circle cx="616.7" cy="479.2" r="2" fill="#00c832" stroke="#00a028" stroke-width="0.5"/><circle cx="624.1" cy="479.2" r="2" fill="#00c832" stroke="#00a028" stroke-width="0.5"/>
<path d="M640.1 537.6L640.1 523.1M640.1 523.1L634.9 515.9M640.1 523.1L645.6 515.9M634.9 515.9L634.9 508.6M645.6 515.9L641.9 508.6M645.6 515.9L649.2 508.6M634.9 508.6L634.9 501.4M641.9 508.6L641.9 501.4M649.2 508.6L649.2 501.4" stroke="#8c8c8c" stroke-width="0.8" fill="none"/><rect x="637.7" y="535.2" width="4.8" height="4.8" fill="#0000fa"/><rect x="637.7" y="528" width="4.8" height="4.8" fill="#0000fa"/><circle cx="640.1" cy="523.1" r="2" fill="#00c832" stroke="#00a028" stroke-width="0.5"/><circle cx="634.9" cy="515.9" r="2" fill="#00c832" stroke="#00a028" stroke-width="0.5"/><circle cx="645.6" cy="515.9" r="2" fill="#00c832" stroke="#00a028" stroke-width="0.5"/><circle cx="634.9" cy="508.6" r="2" fill="#00c832" stroke="#00a028" stroke-width="0.5"/><circle cx="641.9" cy="508.6" r="2" fill="#00c832" stroke="#00a028" stroke-width="0.5"/><circle cx="649.2" cy="508.6" r="2" fill="#00c832" stroke="#00a028" stroke-width="0.5"/><circle cx="634.9" cy="501.4" r="2" fill="#00c832" stroke="#00a028" stroke-width="0.5"/><circle cx="641.9" cy="501.4" r="2" fill="#00c832" stroke="#00a028" stroke-width="0.5"/><circle cx="649.2" cy="501.4" r="2" fill="#00c832" stroke="#00a028" stroke-width="0.5"/>
<path d="M660.3 551.5L660.3 537.1M660.3 551.5L668.1 551.5M660.3 537.1L656.8 529.9M660.3 537.1L663.8 529.9M656.8 529.9L656.8 522.7M663.8 529.9L663.8 522.7" stroke="#8c8c8c" stroke-width="0.8" fill="none"/><rect x="657.9" y="549.1" width="4.8" height="4.8" fill="#0000fa"/><rect x="657.9" y="541.9" width="4.8" height="4.8" fill="#0000fa"/><circle cx="660.3" cy="537.1" r="2" fill="#00c832" stroke="#00a028" stroke-width="0.5"/><path d="M665.7 551.5L670.5 549.2L670.5 553.8Z" fill="#ff0000"/><rect x="654.4" y="520.3" width="4.8" height="4.8" fill="#0000fa"/><rect x="661.5" y="520.3" width="4.8" height="4.8" fill="#0000fa"/><circle cx="656.8" cy="529.9" r="2" fill="#00c832" stroke="#00a028" stroke-width="0.5"/><circle cx="663.8" cy="529.9" r="2" fill="#00c832" stroke="#00a028" stroke-width="0.5"/>
<path d="M602.6 421.8L602.6 407.6M602.6 407.6L599 400.5M602.6 407.6L606.2 400.5M606.2 400.5L602.6 393.4M606.2 400.5L609.9 393.4" stroke="#8c8c8c" stroke-width="0.8" fill="none"/><rect x="600.2" y="419.4" width="4.8" height="4.8" fill="#0000fa"/><rect x="600.2" y="412.3" width="4.8" height="4.8" fill="#0000fa"/><circle cx="602.6" cy="407.6" r="2" fill="#00c832" stroke="#00a028" stroke-width="0.5"/><circle cx="599" cy="400.5" r="2" fill="#00c832" stroke="#00a028" stroke-width="0.5"/><circle cx="606.2" cy="400.5" r="2" fill="#00c832" stroke="#00a028" stroke-width="0.5"/><circle cx="602.6" cy="393.4" r="2" fill="#00c832" stroke="#00a028" stroke-width="0.5"/><circle cx="609.9" cy="393.4" r="2" fill="#00c832" stroke="#00a028" stroke-width="0.5"/>
<path d="M625.5 435.3L625.5 420.8M625.5 420.8L620.3 413.6M625.5 420.8L631 413.6M620.3 413.6L620.3 406.3M631 413.6L627.3 406.3M631 413.6L634.6 406.3" stroke="#8c8c8c" stroke-width="0.8" fill="none"/><rect x="623.1" y="432.9" width="4.8" height="4.8" fill="#0000fa"/><rect x="623.1" y="425.7" width="4.8" height="4.8" fill="#0000fa"/><circle cx="625.5" cy="420.8" r="2" fill="#00c832" stroke="#00a028" stroke-width="0.5"/><circle cx="620.3" cy="413.6" r="2" fill="#00c832" stroke="#00a028" stroke-width="0.5"/><circle cx="631" cy="413.6" r="2" fill="#00c832" stroke="#00a028" stroke-width="0.5"/><circle cx="620.3" cy="406.3" r="2" fill="#00c832" stroke="#00a028" stroke-width="0.5"/><circle cx="627.3" cy="406.3" r="2" fill="#00c832" stroke="#00a028" stroke-width="0.5"/><circle cx="634.6" cy="406.3" r="2" fill="#00c832" stroke="#00a028" stroke-width="0.5"/>
<path d="M650.8 455.7L650.8 441.4M650.8 441.4L645.6 434.2M650.8 441.4L656.3 434.2M645.6 434.2L645.6 427.1M656.3 434.2L652.6 427.1M656.3 434.2L659.9 427.1" stroke="#8c8c8c" stroke-width="0.8" fill="none"/><path d="M643.6 422.6L661.9 422.6M643.6 422.6L643 423.8M661.9 422.6L662.5 423.8M652.4 422.6L652.4 415.4" stroke="#b8b8b8" stroke-width="0.7" fill="none"/><rect x="648.4" y="453.3" width="4.8" height="4.8" fill="#0000fa"/><rect x="648.4" y="446.2" width="4.8" height="4.8" fill="#0000fa"/><circle cx="650.8" cy="441.4" r="2" fill="#00c832" stroke="#00a028" stroke-width="0.5"/><circle cx="645.6" cy="434.2" r="2" fill="#00c832" stroke="#00a028" stroke-width="0.5"/><circle cx="656.3" cy="434.2" r="2" fill="#00c832" stroke="#00a028" stroke-width="0.5"/><circle cx="645.6" cy="427.1" r="2" fill="#00c832" stroke="#00a028" stroke-width="0.5"/><circle cx="652.6" cy="427.1" r="2" fill="#00c832" stroke="#00a028" stroke-width="0.5"/><circle cx="659.9" cy="427.1" r="2" fill="#00c832" stroke="#00a028" stroke-width="0.5"/><circle cx="652.4" cy="415.4" r="2" fill="#00c832" stroke="#00a028" stroke-width="0.5"/>
<path d="M674.7 475.6L674.7 461M674.7 461L669.5 453.7M674.7 461L680.2 453.7M669.5 453.7L669.5 446.4M680.2 453.7L676.5 446.4M680.2 453.7L683.8 446.4" stroke="#8c8c8c" stroke-width="0.8" fill="none"/><path d="M667.5 441.8L685.8 441.8M667.5 441.8L666.9 443M685.8 441.8L686.4 443M672.7 441.8L672.7 434.5M680 441.8L680 434.5" stroke="#b8b8b8" stroke-width="0.7" fill="none"/><rect x="672.3" y="473.2" width="4.8" height="4.8" fill="#0000fa"/><rect x="672.3" y="465.9" width="4.8" height="4.8" fill="#0000fa"/><circle cx="674.7" cy="461" r="2.1" fill="#00c832" stroke="#00a028" stroke-width="0.5"/><circle cx="669.5" cy="453.7" r="2.1" fill="#00c832" stroke="#00a028" stroke-width="0.5"/><circle cx="680.2" cy="453.7" r="2.1" fill="#00c832" stroke="#00a028" stroke-width="0.5"/><circle cx="669.5" cy="446.4" r="2.1" fill="#00c832" stroke="#00a028" stroke-width="0.5"/><circle cx="676.5" cy="446.4" r="2.1" fill="#00c832" stroke="#00a028" stroke-width="0.5"/><circle cx="683.8" cy="446.4" r="2.1" fill="#00c832" stroke="#00a028" stroke-width="0.5"/><circle cx="672.7" cy="434.5" r="2.1" fill="#00c832" stroke="#00a028" stroke-width="0.5"/><circle cx="680" cy="434.5" r="2.1" fill="#00c832" stroke="#00a028" stroke-width="0.5"/>
<path d="M697.3 488.3L697.3 473.8M697.3 488.3L705.1 488.3M697.3 473.8L693.8 466.6M697.3 473.8L700.8 466.6M693.8 466.6L693.8 459.3M700.8 466.6L700.8 459.3" stroke="#8c8c8c" stroke-width="0.8" fill="none"/><rect x="694.9" y="485.9" width="4.8" height="4.8" fill="#0000fa"/><rect x="694.9" y="478.7" width="4.8" height="4.8" fill="#0000fa"/><circle cx="697.3" cy="473.8" r="2" fill="#00c832" stroke="#00a028" stroke-width="0.5"/><path d="M702.7 488.3L707.5 486L707.5 490.6Z" fill="#ff0000"/><rect x="691.4" y="456.9" width="4.8" height="4.8" fill="#0000fa"/><rect x="698.5" y="456.9" width="4.8" height="4.8" fill="#0000fa"/><circle cx="693.8" cy="466.6" r="2" fill="#00c832" stroke="#00a028" stroke-width="0.5"/><circle cx="700.8" cy="466.6" r="2" fill="#00c832" stroke="#00a028" stroke-width="0.5"/>
<path d="M719.5 508.6L719.5 494.4M719.5 508.6L727.2 508.6M719.5 494.4L715.8 487.3M719.5 494.4L723.2 487.3M715.8 487.3L715.8 480.2M723.2 487.3L723.2 480.2M723.2 480.2L723.2 473.1" stroke="#8c8c8c" stroke-width="0.8" fill="none"/><rect x="717.1" y="506.2" width="4.8" height="4.8" fill="#0000fa"/><rect x="717.1" y="499.1" width="4.8" height="4.8" fill="#0000fa"/><circle cx="719.5" cy="494.4" r="2" fill="#00c832" stroke="#00a028" stroke-width="0.5"/><path d="M724.8 508.6L729.5 506.3L729.5 510.9Z" fill="#ff0000"/><rect x="713.4" y="477.8" width="4.8" height="4.8" fill="#0000fa"/><rect x="720.9" y="477.8" width="4.8" height="4.8" fill="#0000fa"/><circle cx="723.2" cy="473.1" r="2.1" fill="#ffff00" stroke="#b8a800" stroke-width="0.6"/><circle cx="715.8" cy="487.3" r="2" fill="#00c832" stroke="#00a028" stroke-width="0.5"/><circle cx="723.2" cy="487.3" r="2" fill="#00c832" stroke="#00a028" stroke-width="0.5"/>
<path d="M654.3 355.4L654.3 340.9M654.3 355.4L662.1 355.4M654.3 340.9L650.8 333.6M654.3 340.9L657.8 333.6M650.8 333.6L650.8 326.4M657.8 333.6L657.8 326.4" stroke="#8c8c8c" stroke-width="0.8" fill="none"/><rect x="651.9" y="353" width="4.8" height="4.8" fill="#0000fa"/><rect x="651.9" y="345.8" width="4.8" height="4.8" fill="#0000fa"/><circle cx="654.3" cy="340.9" r="2" fill="#00c832" stroke="#00a028" stroke-width="0.5"/><path d="M659.7 355.4L664.5 353.1L664.5 357.7Z" fill="#ff0000"/><rect x="648.5" y="324" width="4.8" height="4.8" fill="#0000fa"/><rect x="655.4" y="324" width="4.8" height="4.8" fill="#0000fa"/><circle cx="650.8" cy="333.6" r="2" fill="#00c832" stroke="#00a028" stroke-width="0.5"/><circle cx="657.8" cy="333.6" r="2" fill="#00c832" stroke="#00a028" stroke-width="0.5"/>
<path d="M677.1 361.7L677.1 348.7M677.1 361.7L684.1 361.7M677.1 348.7L672 342.2M677.1 348.7L682.2 342.2M672 342.2L672 335.7M682.2 342.2L678.8 335.7M682.2 342.2L685.6 335.7" stroke="#8c8c8c" stroke-width="0.8" fill="none"/><rect x="674.8" y="359.4" width="4.6" height="4.6" fill="#0000fa"/><rect x="674.8" y="352.9" width="4.6" height="4.6" fill="#0000fa"/><circle cx="677.1" cy="348.7" r="1.9" fill="#00c832" stroke="#00a028" stroke-width="0.5"/><path d="M681.8 361.7L686.4 359.5L686.4 363.9Z" fill="#ff0000"/><rect x="669.7" y="333.4" width="4.6" height="4.6" fill="#0000fa"/><rect x="676.5" y="333.4" width="4.6" height="4.6" fill="#0000fa"/><rect x="683.3" y="333.4" width="4.6" height="4.6" fill="#0000fa"/><circle cx="672" cy="342.2" r="1.9" fill="#00c832" stroke="#00a028" stroke-width="0.5"/><circle cx="682.2" cy="342.2" r="1.9" fill="#00c832" stroke="#00a028" stroke-width="0.5"/>
<path d="M703 364.3L703 351.4M703 364.3L710 364.3M703 351.4L698.3 344.9M703 351.4L707.7 344.9M698.3 344.9L698.3 338.5M698.3 338.5L698.3 332.1M707.7 344.9L704.6 338.5M707.7 344.9L710.8 338.5" stroke="#8c8c8c" stroke-width="0.8" fill="none"/><rect x="700.7" y="362" width="4.5" height="4.5" fill="#0000fa"/><rect x="700.7" y="355.6" width="4.5" height="4.5" fill="#0000fa"/><circle cx="703" cy="351.4" r="1.9" fill="#00c832" stroke="#00a028" stroke-width="0.5"/><path d="M707.7 364.3L712.2 362.1L712.2 366.5Z" fill="#ff0000"/><rect x="696" y="336.2" width="4.5" height="4.5" fill="#0000fa"/><circle cx="698.3" cy="332.1" r="2" fill="#ffff00" stroke="#b8a800" stroke-width="0.6"/><rect x="702.3" y="336.2" width="4.5" height="4.5" fill="#0000fa"/><rect x="708.5" y="336.2" width="4.5" height="4.5" fill="#0000fa"/><circle cx="698.3" cy="344.9" r="1.9" fill="#00c832" stroke="#00a028" stroke-width="0.5"/><circle cx="707.7" cy="344.9" r="1.9" fill="#00c832" stroke="#00a028" stroke-width="0.5"/>
<path d="M726.1 371.2L726.1 358.3M726.1 371.2L733 371.2M726.1 358.3L722.8 351.9M726.1 358.3L729.5 351.9M722.8 351.9L722.8 345.5M722.8 345.5L722.8 332.6M729.5 351.9L729.5 345.5M729.5 345.5L729.5 332.6" stroke="#8c8c8c" stroke-width="0.8" fill="none"/><rect x="723.8" y="368.9" width="4.5" height="4.5" fill="#0000fa"/><rect x="723.8" y="362.5" width="4.5" height="4.5" fill="#0000fa"/><circle cx="726.1" cy="358.3" r="1.9" fill="#00c832" stroke="#00a028" stroke-width="0.5"/><path d="M730.8 371.2L735.3 369L735.3 373.4Z" fill="#ff0000"/><rect x="720.5" y="343.2" width="4.5" height="4.5" fill="#0000fa"/><circle cx="722.8" cy="339" r="2" fill="#ffff00" stroke="#b8a800" stroke-width="0.6"/><path d="M722.8 330.2L725.1 332.6L722.8 335L720.4 332.6Z" fill="#c800c8"/><rect x="727.2" y="343.2" width="4.5" height="4.5" fill="#0000fa"/><circle cx="729.5" cy="339" r="2" fill="#ffff00" stroke="#b8a800" stroke-width="0.6"/><path d="M729.5 330.2L731.8 332.6L729.5 335L727.1 332.6Z" fill="#c800c8"/><circle cx="722.8" cy="351.9" r="1.9" fill="#00c832" stroke="#00a028" stroke-width="0.5"/><circle cx="729.5" cy="351.9" r="1.9" fill="#00c832" stroke="#00a028" stroke-width="0.5"/>
<path d="M746.9 378L746.9 365M746.9 378L753.9 378M746.9 365L742 358.5M746.9 365L751.8 358.5M742 358.5L742 352M742 352L742 339M751.8 358.5L748.5 352M748.5 352L748.5 339M751.8 358.5L755.1 352M755.1 352L755.1 339" stroke="#8c8c8c" stroke-width="0.8" fill="none"/><rect x="744.6" y="375.7" width="4.6" height="4.6" fill="#0000fa"/><rect x="744.6" y="369.2" width="4.6" height="4.6" fill="#0000fa"/><circle cx="746.9" cy="365" r="1.9" fill="#00c832" stroke="#00a028" stroke-width="0.5"/><path d="M751.6 378L756.2 375.8L756.2 380.2Z" fill="#ff0000"/><rect x="739.7" y="349.7" width="4.6" height="4.6" fill="#0000fa"/><circle cx="742" cy="345.5" r="2" fill="#ffff00" stroke="#b8a800" stroke-width="0.6"/><path d="M742 336.6L744.4 339L742 341.4L739.6 339Z" fill="#c800c8"/><rect x="746.3" y="349.7" width="4.6" height="4.6" fill="#0000fa"/><circle cx="748.5" cy="345.5" r="2" fill="#ffff00" stroke="#b8a800" stroke-width="0.6"/><path d="M748.5 336.6L750.9 339L748.5 341.4L746.1 339Z" fill="#c800c8"/><rect x="752.8" y="349.7" width="4.6" height="4.6" fill="#0000fa"/><circle cx="755.1" cy="345.5" r="2" fill="#ffff00" stroke="#b8a800" stroke-width="0.6"/><path d="M755.1 336.6L757.5 339L755.1 341.4L752.7 339Z" fill="#c800c8"/><circle cx="742" cy="358.5" r="1.9" fill="#00c832" stroke="#00a028" stroke-width="0.5"/><circle cx="751.8" cy="358.5" r="1.9" fill="#00c832" stroke="#00a028" stroke-width="0.5"/>
<path d="M777.2 384.4L777.2 371.2M777.2 384.4L784.3 384.4M777.2 371.2L770.7 364.6M777.2 371.2L783.7 364.6M770.7 364.6L767.5 358M767.5 358L767.5 344.8M770.7 364.6L774 358M774 358L774 344.8M783.7 364.6L780.4 358M783.7 364.6L786.9 358" stroke="#8c8c8c" stroke-width="0.8" fill="none"/><rect x="774.9" y="382.1" width="4.6" height="4.6" fill="#0000fa"/><rect x="774.9" y="375.5" width="4.6" height="4.6" fill="#0000fa"/><circle cx="777.2" cy="371.2" r="1.9" fill="#00c832" stroke="#00a028" stroke-width="0.5"/><path d="M782 384.4L786.6 382.2L786.6 386.6Z" fill="#ff0000"/><rect x="765.2" y="355.7" width="4.6" height="4.6" fill="#0000fa"/><circle cx="767.5" cy="351.4" r="2" fill="#ffff00" stroke="#b8a800" stroke-width="0.6"/><path d="M767.5 342.4L769.9 344.8L767.5 347.2L765.1 344.8Z" fill="#c800c8"/><rect x="771.7" y="355.7" width="4.6" height="4.6" fill="#0000fa"/><circle cx="774" cy="351.4" r="2" fill="#ffff00" stroke="#b8a800" stroke-width="0.6"/><path d="M774 342.4L776.4 344.8L774 347.2L771.6 344.8Z" fill="#c800c8"/><rect x="778.1" y="355.7" width="4.6" height="4.6" fill="#0000fa"/><rect x="784.6" y="355.7" width="4.6" height="4.6" fill="#0000fa"/><circle cx="770.7" cy="364.6" r="1.9" fill="#00c832" stroke="#00a028" stroke-width="0.5"/><circle cx="783.7" cy="364.6" r="1.9" fill="#00c832" stroke="#00a028" stroke-width="0.5"/>
<path d="M808 386.9L808 373.9M808 386.9L815 386.9M808 373.9L801.3 367.4M808 373.9L814.7 367.4M801.3 367.4L798 360.9M798 360.9L798 347.9M801.3 367.4L804.6 360.9M804.6 360.9L804.6 347.9M814.7 367.4L811.4 360.9M811.4 360.9L811.4 354.4M814.7 367.4L818 360.9M818 360.9L818 354.4" stroke="#8c8c8c" stroke-width="0.8" fill="none"/><rect x="805.7" y="384.6" width="4.6" height="4.6" fill="#0000fa"/><rect x="805.7" y="378.1" width="4.6" height="4.6" fill="#0000fa"/><circle cx="808" cy="373.9" r="1.9" fill="#00c832" stroke="#00a028" stroke-width="0.5"/><path d="M812.7 386.9L817.3 384.7L817.3 389.1Z" fill="#ff0000"/><rect x="795.7" y="358.6" width="4.6" height="4.6" fill="#0000fa"/><circle cx="798" cy="354.4" r="2" fill="#ffff00" stroke="#b8a800" stroke-width="0.6"/><path d="M798 345.5L800.3 347.9L798 350.3L795.6 347.9Z" fill="#c800c8"/><rect x="802.4" y="358.6" width="4.6" height="4.6" fill="#0000fa"/><circle cx="804.6" cy="354.4" r="2" fill="#ffff00" stroke="#b8a800" stroke-width="0.6"/><path d="M804.6 345.5L807 347.9L804.6 350.3L802.3 347.9Z" fill="#c800c8"/><rect x="809.1" y="358.6" width="4.6" height="4.6" fill="#0000fa"/><circle cx="811.4" cy="354.4" r="2" fill="#ffff00" stroke="#b8a800" stroke-width="0.6"/><rect x="815.8" y="358.6" width="4.6" height="4.6" fill="#0000fa"/><circle cx="818" cy="354.4" r="2" fill="#ffff00" stroke="#b8a800" stroke-width="0.6"/><circle cx="801.3" cy="367.4" r="1.9" fill="#00c832" stroke="#00a028" stroke-width="0.5"/><circle cx="814.7" cy="367.4" r="1.9" fill="#00c832" stroke="#00a028" stroke-width="0.5"/>
<path d="M840.6 394.2L840.6 381.3M840.6 394.2L847.6 394.2M840.6 381.3L834.2 374.8M840.6 381.3L847 374.8M834.2 374.8L831 368.4M831 368.4L831 355.5M834.2 374.8L837.4 368.4M837.4 368.4L837.4 355.5M847 374.8L843.8 368.4M843.8 368.4L843.8 355.5M847 374.8L850.2 368.4M850.2 368.4L850.2 361.9" stroke="#8c8c8c" stroke-width="0.8" fill="none"/><rect x="838.3" y="391.9" width="4.5" height="4.5" fill="#0000fa"/><rect x="838.3" y="385.5" width="4.5" height="4.5" fill="#0000fa"/><circle cx="840.6" cy="381.3" r="1.9" fill="#00c832" stroke="#00a028" stroke-width="0.5"/><path d="M845.3 394.2L849.8 392L849.8 396.4Z" fill="#ff0000"/><rect x="828.8" y="366.1" width="4.5" height="4.5" fill="#0000fa"/><circle cx="831" cy="361.9" r="2" fill="#ffff00" stroke="#b8a800" stroke-width="0.6"/><path d="M831 353.1L833.4 355.5L831 357.9L828.7 355.5Z" fill="#c800c8"/><rect x="835.1" y="366.1" width="4.5" height="4.5" fill="#0000fa"/><circle cx="837.4" cy="361.9" r="2" fill="#ffff00" stroke="#b8a800" stroke-width="0.6"/><path d="M837.4 353.1L839.8 355.5L837.4 357.9L835 355.5Z" fill="#c800c8"/><rect x="841.5" y="366.1" width="4.5" height="4.5" fill="#0000fa"/><circle cx="843.8" cy="361.9" r="2" fill="#ffff00" stroke="#b8a800" stroke-width="0.6"/><path d="M843.8 353.1L846.2 355.5L843.8 357.9L841.4 355.5Z" fill="#c800c8"/><rect x="847.9" y="366.1" width="4.5" height="4.5" fill="#0000fa"/><circle cx="850.2" cy="361.9" r="2" fill="#ffff00" stroke="#b8a800" stroke-width="0.6"/><circle cx="834.2" cy="374.8" r="1.9" fill="#00c832" stroke="#00a028" stroke-width="0.5"/><circle cx="847" cy="374.8" r="1.9" fill="#00c832" stroke="#00a028" stroke-width="0.5"/>
<path d="M875.3 400.7L875.3 387.7M875.3 400.7L882.3 400.7M875.3 387.7L868.9 381.2M875.3 387.7L881.7 381.2M868.9 381.2L865.7 374.7M865.7 374.7L865.7 361.7M868.9 381.2L872.1 374.7M872.1 374.7L872.1 361.7M881.7 381.2L878.5 374.7M878.5 374.7L878.5 361.7M881.7 381.2L884.9 374.7M884.9 374.7L884.9 361.7" stroke="#8c8c8c" stroke-width="0.8" fill="none"/><rect x="873" y="398.4" width="4.6" height="4.6" fill="#0000fa"/><rect x="873" y="391.9" width="4.6" height="4.6" fill="#0000fa"/><circle cx="875.3" cy="387.7" r="1.9" fill="#00c832" stroke="#00a028" stroke-width="0.5"/><path d="M880 400.7L884.6 398.5L884.6 402.9Z" fill="#ff0000"/><rect x="863.4" y="372.4" width="4.6" height="4.6" fill="#0000fa"/><circle cx="865.7" cy="368.2" r="2" fill="#ffff00" stroke="#b8a800" stroke-width="0.6"/><path d="M865.7 359.3L868.1 361.7L865.7 364.1L863.3 361.7Z" fill="#c800c8"/><rect x="869.8" y="372.4" width="4.6" height="4.6" fill="#0000fa"/><circle cx="872.1" cy="368.2" r="2" fill="#ffff00" stroke="#b8a800" stroke-width="0.6"/><path d="M872.1 359.3L874.5 361.7L872.1 364.1L869.7 361.7Z" fill="#c800c8"/><rect x="876.2" y="372.4" width="4.6" height="4.6" fill="#0000fa"/><circle cx="878.5" cy="368.2" r="2" fill="#ffff00" stroke="#b8a800" stroke-width="0.6"/><path d="M878.5 359.3L880.9 361.7L878.5 364.1L876.1 361.7Z" fill="#c800c8"/><rect x="882.6" y="372.4" width="4.6" height="4.6" fill="#0000fa"/><circle cx="884.9" cy="368.2" r="2" fill="#ffff00" stroke="#b8a800" stroke-width="0.6"/><path d="M884.9 359.3L887.3 361.7L884.9 364.1L882.5 361.7Z" fill="#c800c8"/><circle cx="868.9" cy="381.2" r="1.9" fill="#00c832" stroke="#00a028" stroke-width="0.5"/><circle cx="881.7" cy="381.2" r="1.9" fill="#00c832" stroke="#00a028" stroke-width="0.5"/>
<path d="M665.6 308.7L665.6 294.2M665.6 294.2L662 286.9M665.6 294.2L669.2 286.9M669.2 286.9L665.6 279.7M669.2 286.9L672.9 279.7" stroke="#8c8c8c" stroke-width="0.8" fill="none"/><rect x="663.2" y="306.3" width="4.8" height="4.8" fill="#0000fa"/><rect x="663.2" y="299.1" width="4.8" height="4.8" fill="#0000fa"/><circle cx="665.6" cy="294.2" r="2" fill="#00c832" stroke="#00a028" stroke-width="0.5"/><circle cx="662" cy="286.9" r="2" fill="#00c832" stroke="#00a028" stroke-width="0.5"/><circle cx="669.2" cy="286.9" r="2" fill="#00c832" stroke="#00a028" stroke-width="0.5"/><circle cx="665.6" cy="279.7" r="2" fill="#00c832" stroke="#00a028" stroke-width="0.5"/><circle cx="672.9" cy="279.7" r="2" fill="#00c832" stroke="#00a028" stroke-width="0.5"/>
<path d="M692.6 310.3L692.6 295.8M692.6 295.8L687.4 288.5M692.6 295.8L698.1 288.5M687.4 288.5L687.4 281.2M698.1 288.5L694.4 281.2M698.1 288.5L701.7 281.2" stroke="#8c8c8c" stroke-width="0.8" fill="none"/><rect x="690.2" y="307.9" width="4.8" height="4.8" fill="#0000fa"/><rect x="690.2" y="300.6" width="4.8" height="4.8" fill="#0000fa"/><circle cx="692.6" cy="295.8" r="2.1" fill="#00c832" stroke="#00a028" stroke-width="0.5"/><circle cx="687.4" cy="288.5" r="2.1" fill="#00c832" stroke="#00a028" stroke-width="0.5"/><circle cx="698.1" cy="288.5" r="2.1" fill="#00c832" stroke="#00a028" stroke-width="0.5"/><circle cx="687.4" cy="281.2" r="2.1" fill="#00c832" stroke="#00a028" stroke-width="0.5"/><circle cx="694.4" cy="281.2" r="2.1" fill="#00c832" stroke="#00a028" stroke-width="0.5"/><circle cx="701.7" cy="281.2" r="2.1" fill="#00c832" stroke="#00a028" stroke-width="0.5"/>
<path d="M718.7 308.3L718.7 293.8M718.7 293.8L713.5 286.6M718.7 293.8L724.2 286.6M713.5 286.6L713.5 279.4M724.2 286.6L720.5 279.4M724.2 286.6L727.8 279.4" stroke="#8c8c8c" stroke-width="0.8" fill="none"/><path d="M711.5 274.8L729.8 274.8M711.5 274.8L710.9 276M729.8 274.8L730.4 276M720.7 274.8L720.7 267.6" stroke="#b8b8b8" stroke-width="0.7" fill="none"/><rect x="716.3" y="305.9" width="4.8" height="4.8" fill="#0000fa"/><rect x="716.3" y="298.7" width="4.8" height="4.8" fill="#0000fa"/><circle cx="718.7" cy="293.8" r="2" fill="#00c832" stroke="#00a028" stroke-width="0.5"/><circle cx="713.5" cy="286.6" r="2" fill="#00c832" stroke="#00a028" stroke-width="0.5"/><circle cx="724.2" cy="286.6" r="2" fill="#00c832" stroke="#00a028" stroke-width="0.5"/><circle cx="713.5" cy="279.4" r="2" fill="#00c832" stroke="#00a028" stroke-width="0.5"/><circle cx="720.5" cy="279.4" r="2" fill="#00c832" stroke="#00a028" stroke-width="0.5"/><circle cx="727.8" cy="279.4" r="2" fill="#00c832" stroke="#00a028" stroke-width="0.5"/><circle cx="720.7" cy="267.6" r="2" fill="#00c832" stroke="#00a028" stroke-width="0.5"/>
<path d="M744 308.7L744 294.2M744 294.2L738.8 287M744 294.2L749.5 287M738.8 287L738.8 279.8M749.5 287L745.8 279.8M749.5 287L753.1 279.8" stroke="#8c8c8c" stroke-width="0.8" fill="none"/><path d="M736.8 275.2L755.1 275.2M736.8 275.2L736.2 276.4M755.1 275.2L755.7 276.4M742.3 275.2L742.3 268M749.2 275.2L749.2 268" stroke="#b8b8b8" stroke-width="0.7" fill="none"/><rect x="741.6" y="306.3" width="4.8" height="4.8" fill="#0000fa"/><rect x="741.6" y="299.1" width="4.8" height="4.8" fill="#0000fa"/><circle cx="744" cy="294.2" r="2" fill="#00c832" stroke="#00a028" stroke-width="0.5"/><circle cx="738.8" cy="287" r="2" fill="#00c832" stroke="#00a028" stroke-width="0.5"/><circle cx="749.5" cy="287" r="2" fill="#00c832" stroke="#00a028" stroke-width="0.5"/><circle cx="738.8" cy="279.8" r="2" fill="#00c832" stroke="#00a028" stroke-width="0.5"/><circle cx="745.8" cy="279.8" r="2" fill="#00c832" stroke="#00a028" stroke-width="0.5"/><circle cx="753.1" cy="279.8" r="2" fill="#00c832" stroke="#00a028" stroke-width="0.5"/><circle cx="742.3" cy="268" r="2" fill="#00c832" stroke="#00a028" stroke-width="0.5"/><circle cx="749.2" cy="268" r="2" fill="#00c832" stroke="#00a028" stroke-width="0.5"/>
<path d="M769.3 308.4L769.3 293.7M769.3 293.7L764.1 286.3M769.3 293.7L774.8 286.3M764.1 286.3L764.1 279M774.8 286.3L771.1 279M774.8 286.3L778.4 279M764.1 279L764.1 271.6M771.1 279L771.1 271.6M778.4 279L778.4 271.6" stroke="#8c8c8c" stroke-width="0.8" fill="none"/><rect x="766.9" y="306" width="4.8" height="4.8" fill="#0000fa"/><rect x="766.9" y="298.6" width="4.8" height="4.8" fill="#0000fa"/><circle cx="769.3" cy="293.7" r="2.1" fill="#00c832" stroke="#00a028" stroke-width="0.5"/><circle cx="764.1" cy="286.3" r="2.1" fill="#00c832" stroke="#00a028" stroke-width="0.5"/><circle cx="774.8" cy="286.3" r="2.1" fill="#00c832" stroke="#00a028" stroke-width="0.5"/><circle cx="764.1" cy="279" r="2.1" fill="#00c832" stroke="#00a028" stroke-width="0.5"/><circle cx="771.1" cy="279" r="2.1" fill="#00c832" stroke="#00a028" stroke-width="0.5"/><circle cx="778.4" cy="279" r="2.1" fill="#00c832" stroke="#00a028" stroke-width="0.5"/><circle cx="764.1" cy="271.6" r="2.1" fill="#00c832" stroke="#00a028" stroke-width="0.5"/><circle cx="771.1" cy="271.6" r="2.1" fill="#00c832" stroke="#00a028" stroke-width="0.5"/><circle cx="778.4" cy="271.6" r="2.1" fill="#00c832" stroke="#00a028" stroke-width="0.5"/>
<path d="M792.9 309L792.9 294.3M792.9 309L800.8 309M792.9 294.3L789.1 287M792.9 294.3L796.7 287M789.1 287L789.1 279.7M796.7 287L796.7 279.7" stroke="#8c8c8c" stroke-width="0.8" fill="none"/><rect x="790.5" y="306.6" width="4.8" height="4.8" fill="#0000fa"/><rect x="790.5" y="299.3" width="4.8" height="4.8" fill="#0000fa"/><circle cx="792.9" cy="294.3" r="2.1" fill="#00c832" stroke="#00a028" stroke-width="0.5"/><path d="M798.4 309L803.2 306.7L803.2 311.3Z" fill="#ff0000"/><rect x="786.7" y="277.3" width="4.8" height="4.8" fill="#0000fa"/><rect x="794.3" y="277.3" width="4.8" height="4.8" fill="#0000fa"/><circle cx="789.1" cy="287" r="2.1" fill="#00c832" stroke="#00a028" stroke-width="0.5"/><circle cx="796.7" cy="287" r="2.1" fill="#00c832" stroke="#00a028" stroke-width="0.5"/>
<path d="M815.1 309.1L815.1 294.6M815.1 309.1L822.9 309.1M815.1 294.6L811.6 287.3M815.1 294.6L818.6 287.3M811.6 287.3L811.6 280.1M811.6 280.1L811.6 272.8M818.6 287.3L818.6 280.1M818.6 280.1L818.6 272.8" stroke="#8c8c8c" stroke-width="0.8" fill="none"/><rect x="812.7" y="306.7" width="4.8" height="4.8" fill="#0000fa"/><rect x="812.7" y="299.4" width="4.8" height="4.8" fill="#0000fa"/><circle cx="815.1" cy="294.6" r="2.1" fill="#00c832" stroke="#00a028" stroke-width="0.5"/><path d="M820.5 309.1L825.3 306.8L825.3 311.4Z" fill="#ff0000"/><rect x="809.2" y="277.7" width="4.8" height="4.8" fill="#0000fa"/><circle cx="811.6" cy="272.8" r="2.1" fill="#ffff00" stroke="#b8a800" stroke-width="0.6"/><rect x="816.2" y="277.7" width="4.8" height="4.8" fill="#0000fa"/><circle cx="818.6" cy="272.8" r="2.1" fill="#ffff00" stroke="#b8a800" stroke-width="0.6"/><circle cx="811.6" cy="287.3" r="2.1" fill="#00c832" stroke="#00a028" stroke-width="0.5"/><circle cx="818.6" cy="287.3" r="2.1" fill="#00c832" stroke="#00a028" stroke-width="0.5"/>
<path d="M837.6 309.7L837.6 295.1M837.6 309.7L845.5 309.7M837.6 295.1L834 287.8M837.6 295.1L841.2 287.8M834 287.8L834 280.5M834 280.5L834 273.2M841.2 287.8L841.2 280.5M841.2 280.5L841.2 273.2" stroke="#8c8c8c" stroke-width="0.8" fill="none"/><path d="M831.9 268.6L846.8 268.6M831.9 268.6L831.3 269.8M846.8 268.6L847.4 269.8M839.6 268.6L839.6 261.3" stroke="#b8b8b8" stroke-width="0.7" fill="none"/><rect x="835.2" y="307.3" width="4.8" height="4.8" fill="#0000fa"/><rect x="835.2" y="300" width="4.8" height="4.8" fill="#0000fa"/><circle cx="837.6" cy="295.1" r="2.1" fill="#00c832" stroke="#00a028" stroke-width="0.5"/><path d="M843.1 309.7L847.9 307.4L847.9 312Z" fill="#ff0000"/><rect x="831.6" y="278.1" width="4.8" height="4.8" fill="#0000fa"/><circle cx="834" cy="273.2" r="2.1" fill="#ffff00" stroke="#b8a800" stroke-width="0.6"/><rect x="838.8" y="278.1" width="4.8" height="4.8" fill="#0000fa"/><circle cx="841.2" cy="273.2" r="2.1" fill="#ffff00" stroke="#b8a800" stroke-width="0.6"/><circle cx="834" cy="287.8" r="2.1" fill="#00c832" stroke="#00a028" stroke-width="0.5"/><circle cx="841.2" cy="287.8" r="2.1" fill="#00c832" stroke="#00a028" stroke-width="0.5"/><path d="M839.6 258.8L842.1 261.3L839.6 263.8L837.1 261.3Z" fill="#c800c8"/>
<path d="M863.4 309.1L863.4 294.6M863.4 309.1L871.3 309.1M863.4 294.6L859.7 287.3M863.4 294.6L867.1 287.3M859.7 287.3L859.7 280M859.7 280L859.7 265.5M867.1 287.3L867.1 280M867.1 280L867.1 265.5" stroke="#8c8c8c" stroke-width="0.8" fill="none"/><rect x="861" y="306.7" width="4.8" height="4.8" fill="#0000fa"/><rect x="861" y="299.4" width="4.8" height="4.8" fill="#0000fa"/><circle cx="863.4" cy="294.6" r="2.1" fill="#00c832" stroke="#00a028" stroke-width="0.5"/><path d="M868.8 309.1L873.7 306.8L873.7 311.4Z" fill="#ff0000"/><rect x="857.3" y="277.6" width="4.8" height="4.8" fill="#0000fa"/><circle cx="859.7" cy="272.8" r="2.1" fill="#ffff00" stroke="#b8a800" stroke-width="0.6"/><path d="M859.7 263L862.2 265.5L859.7 268L857.2 265.5Z" fill="#c800c8"/><rect x="864.7" y="277.6" width="4.8" height="4.8" fill="#0000fa"/><circle cx="867.1" cy="272.8" r="2.1" fill="#ffff00" stroke="#b8a800" stroke-width="0.6"/><path d="M867.1 263L869.6 265.5L867.1 268L864.6 265.5Z" fill="#c800c8"/><circle cx="859.7" cy="287.3" r="2.1" fill="#00c832" stroke="#00a028" stroke-width="0.5"/><circle cx="867.1" cy="287.3" r="2.1" fill="#00c832" stroke="#00a028" stroke-width="0.5"/>
<path d="M666.5 263.8L666.5 249.7M666.5 249.7L662.8 242.7M666.5 249.7L670.2 242.7M666.5 231.2L666.5 224.1" stroke="#8c8c8c" stroke-width="0.8" fill="none"/><path d="M660.9 238.2L672.3 238.2M660.9 238.2L660.3 239.4M672.3 238.2L672.9 239.4M666.5 238.2L666.5 231.2" stroke="#b8b8b8" stroke-width="0.7" fill="none"/><rect x="664.1" y="261.4" width="4.7" height="4.7" fill="#0000fa"/><rect x="664.1" y="254.4" width="4.7" height="4.7" fill="#0000fa"/><circle cx="666.5" cy="249.7" r="2" fill="#00c832" stroke="#00a028" stroke-width="0.5"/><circle cx="662.8" cy="242.7" r="2" fill="#00c832" stroke="#00a028" stroke-width="0.5"/><circle cx="670.2" cy="242.7" r="2" fill="#00c832" stroke="#00a028" stroke-width="0.5"/><rect x="664.1" y="228.8" width="4.7" height="4.7" fill="#0000fa"/><circle cx="666.5" cy="224.1" r="2.1" fill="#ffff00" stroke="#b8a800" stroke-width="0.6"/>
<path d="M688.2 263.8L688.2 249.5M688.2 249.5L682.8 242.4M688.2 249.5L693.6 242.4M682.8 242.4L682.8 235.3M682.8 235.3L682.8 228.2M693.6 242.4L690 235.3M690 235.3L690 221M693.6 242.4L697.3 235.3" stroke="#8c8c8c" stroke-width="0.8" fill="none"/><rect x="685.8" y="261.4" width="4.8" height="4.8" fill="#0000fa"/><rect x="685.8" y="254.3" width="4.8" height="4.8" fill="#0000fa"/><circle cx="688.2" cy="249.5" r="2" fill="#00c832" stroke="#00a028" stroke-width="0.5"/><rect x="680.4" y="232.9" width="4.8" height="4.8" fill="#0000fa"/><circle cx="682.8" cy="228.2" r="2.1" fill="#ffff00" stroke="#b8a800" stroke-width="0.6"/><rect x="687.6" y="232.9" width="4.8" height="4.8" fill="#0000fa"/><circle cx="690" cy="228.2" r="2.1" fill="#ffff00" stroke="#b8a800" stroke-width="0.6"/><path d="M690 218.5L692.5 221L690 223.5L687.5 221Z" fill="#c800c8"/><rect x="694.9" y="232.9" width="4.8" height="4.8" fill="#0000fa"/><circle cx="682.8" cy="242.4" r="2" fill="#00c832" stroke="#00a028" stroke-width="0.5"/><circle cx="693.6" cy="242.4" r="2" fill="#00c832" stroke="#00a028" stroke-width="0.5"/>
<path d="M659.9 211.2L659.9 197M659.9 197L654.7 189.9M659.9 197L665.1 189.9M654.7 189.9L654.7 182.8M665.1 189.9L661.6 182.8M665.1 189.9L668.5 182.8" stroke="#8c8c8c" stroke-width="0.8" fill="none"/><rect x="657.5" y="208.8" width="4.8" height="4.8" fill="#0000fa"/><rect x="657.5" y="201.7" width="4.8" height="4.8" fill="#0000fa"/><circle cx="659.9" cy="197" r="2" fill="#00c832" stroke="#00a028" stroke-width="0.5"/><rect x="652.3" y="180.4" width="4.8" height="4.8" fill="#0000fa"/><rect x="659.2" y="180.4" width="4.8" height="4.8" fill="#0000fa"/><rect x="666.1" y="180.4" width="4.8" height="4.8" fill="#0000fa"/><circle cx="654.7" cy="189.9" r="2" fill="#00c832" stroke="#00a028" stroke-width="0.5"/><circle cx="665.1" cy="189.9" r="2" fill="#00c832" stroke="#00a028" stroke-width="0.5"/>
<path d="M685.6 204L685.6 189.6M685.6 189.6L680.2 182.4M685.6 189.6L691 182.4M680.2 182.4L680.2 175.2M691 182.4L687.4 175.2M691 182.4L694.7 175.2M694.7 175.2L694.7 168" stroke="#8c8c8c" stroke-width="0.8" fill="none"/><rect x="683.2" y="201.6" width="4.8" height="4.8" fill="#0000fa"/><rect x="683.2" y="194.4" width="4.8" height="4.8" fill="#0000fa"/><circle cx="685.6" cy="189.6" r="2" fill="#00c832" stroke="#00a028" stroke-width="0.5"/><rect x="677.8" y="172.8" width="4.8" height="4.8" fill="#0000fa"/><rect x="685" y="172.8" width="4.8" height="4.8" fill="#0000fa"/><rect x="692.3" y="172.8" width="4.8" height="4.8" fill="#0000fa"/><circle cx="694.7" cy="168" r="2.1" fill="#ffff00" stroke="#b8a800" stroke-width="0.6"/><circle cx="680.2" cy="182.4" r="2" fill="#00c832" stroke="#00a028" stroke-width="0.5"/><circle cx="691" cy="182.4" r="2" fill="#00c832" stroke="#00a028" stroke-width="0.5"/>
<path d="M711.2 198L711.2 183.6M711.2 183.6L705.8 176.4M711.2 183.6L716.6 176.4M705.8 176.4L705.8 169.2M716.6 176.4L713 169.2M713 169.2L713 162M716.6 176.4L720.3 169.2M720.3 169.2L720.3 162" stroke="#8c8c8c" stroke-width="0.8" fill="none"/><rect x="708.8" y="195.6" width="4.8" height="4.8" fill="#0000fa"/><rect x="708.8" y="188.4" width="4.8" height="4.8" fill="#0000fa"/><circle cx="711.2" cy="183.6" r="2" fill="#00c832" stroke="#00a028" stroke-width="0.5"/><rect x="703.4" y="166.8" width="4.8" height="4.8" fill="#0000fa"/><rect x="710.6" y="166.8" width="4.8" height="4.8" fill="#0000fa"/><circle cx="713" cy="162" r="2.1" fill="#ffff00" stroke="#b8a800" stroke-width="0.6"/><rect x="717.9" y="166.8" width="4.8" height="4.8" fill="#0000fa"/><circle cx="720.3" cy="162" r="2.1" fill="#ffff00" stroke="#b8a800" stroke-width="0.6"/><circle cx="705.8" cy="176.4" r="2" fill="#00c832" stroke="#00a028" stroke-width="0.5"/><circle cx="716.6" cy="176.4" r="2" fill="#00c832" stroke="#00a028" stroke-width="0.5"/>
<path d="M641.4 174.6L641.4 160.4M641.4 160.4L637.8 153.3M641.4 160.4L645 153.3M645 153.3L641.4 146.2M645 153.3L648.7 146.2" stroke="#8c8c8c" stroke-width="0.8" fill="none"/><rect x="639" y="172.2" width="4.8" height="4.8" fill="#0000fa"/><rect x="639" y="165.1" width="4.8" height="4.8" fill="#0000fa"/><circle cx="641.4" cy="160.4" r="2" fill="#00c832" stroke="#00a028" stroke-width="0.5"/><circle cx="637.8" cy="153.3" r="2" fill="#00c832" stroke="#00a028" stroke-width="0.5"/><circle cx="645" cy="153.3" r="2" fill="#00c832" stroke="#00a028" stroke-width="0.5"/><circle cx="641.4" cy="146.2" r="2" fill="#00c832" stroke="#00a028" stroke-width="0.5"/><circle cx="648.7" cy="146.2" r="2" fill="#00c832" stroke="#00a028" stroke-width="0.5"/>
<path d="M664.3 161.6L664.3 147.1M664.3 147.1L659.1 139.8M664.3 147.1L669.8 139.8M659.1 139.8L659.1 132.6M669.8 139.8L666.1 132.6M669.8 139.8L673.4 132.6" stroke="#8c8c8c" stroke-width="0.8" fill="none"/><rect x="661.9" y="159.2" width="4.8" height="4.8" fill="#0000fa"/><rect x="661.9" y="152" width="4.8" height="4.8" fill="#0000fa"/><circle cx="664.3" cy="147.1" r="2" fill="#00c832" stroke="#00a028" stroke-width="0.5"/><circle cx="659.1" cy="139.8" r="2" fill="#00c832" stroke="#00a028" stroke-width="0.5"/><circle cx="669.8" cy="139.8" r="2" fill="#00c832" stroke="#00a028" stroke-width="0.5"/><circle cx="659.1" cy="132.6" r="2" fill="#00c832" stroke="#00a028" stroke-width="0.5"/><circle cx="666.1" cy="132.6" r="2" fill="#00c832" stroke="#00a028" stroke-width="0.5"/><circle cx="673.4" cy="132.6" r="2" fill="#00c832" stroke="#00a028" stroke-width="0.5"/>
<path d="M688.4 145.8L688.4 131.2M688.4 131.2L683.2 123.9M688.4 131.2L693.9 123.9M683.2 123.9L683.2 116.6M693.9 123.9L690.2 116.6M693.9 123.9L697.5 116.6" stroke="#8c8c8c" stroke-width="0.8" fill="none"/><path d="M681.2 112L699.5 112M681.2 112L680.6 113.2M699.5 112L700.1 113.2M690.6 112L690.6 104.7" stroke="#b8b8b8" stroke-width="0.7" fill="none"/><rect x="686" y="143.4" width="4.8" height="4.8" fill="#0000fa"/><rect x="686" y="136.1" width="4.8" height="4.8" fill="#0000fa"/><circle cx="688.4" cy="131.2" r="2.1" fill="#00c832" stroke="#00a028" stroke-width="0.5"/><circle cx="683.2" cy="123.9" r="2.1" fill="#00c832" stroke="#00a028" stroke-width="0.5"/><circle cx="693.9" cy="123.9" r="2.1" fill="#00c832" stroke="#00a028" stroke-width="0.5"/><circle cx="683.2" cy="116.6" r="2.1" fill="#00c832" stroke="#00a028" stroke-width="0.5"/><circle cx="690.2" cy="116.6" r="2.1" fill="#00c832" stroke="#00a028" stroke-width="0.5"/><circle cx="697.5" cy="116.6" r="2.1" fill="#00c832" stroke="#00a028" stroke-width="0.5"/><circle cx="690.6" cy="104.7" r="2.1" fill="#00c832" stroke="#00a028" stroke-width="0.5"/>
<path d="M711.7 126.8L711.7 112.6M711.7 112.6L706.5 105.5M711.7 112.6L717.2 105.5M706.5 105.5L706.5 98.4M717.2 105.5L713.5 98.4M717.2 105.5L720.8 98.4" stroke="#8c8c8c" stroke-width="0.8" fill="none"/><path d="M704.5 93.9L722.8 93.9M704.5 93.9L703.9 95.1M722.8 93.9L723.4 95.1M710 93.9L710 86.8M717.1 93.9L717.1 86.8" stroke="#b8b8b8" stroke-width="0.7" fill="none"/><rect x="709.3" y="124.4" width="4.8" height="4.8" fill="#0000fa"/><rect x="709.3" y="117.3" width="4.8" height="4.8" fill="#0000fa"/><circle cx="711.7" cy="112.6" r="2" fill="#00c832" stroke="#00a028" stroke-width="0.5"/><circle cx="706.5" cy="105.5" r="2" fill="#00c832" stroke="#00a028" stroke-width="0.5"/><circle cx="717.2" cy="105.5" r="2" fill="#00c832" stroke="#00a028" stroke-width="0.5"/><circle cx="706.5" cy="98.4" r="2" fill="#00c832" stroke="#00a028" stroke-width="0.5"/><circle cx="713.5" cy="98.4" r="2" fill="#00c832" stroke="#00a028" stroke-width="0.5"/><circle cx="720.8" cy="98.4" r="2" fill="#00c832" stroke="#00a028" stroke-width="0.5"/><circle cx="710" cy="86.8" r="2" fill="#00c832" stroke="#00a028" stroke-width="0.5"/><circle cx="717.1" cy="86.8" r="2" fill="#00c832" stroke="#00a028" stroke-width="0.5"/>
<path d="M734.1 103L734.1 88.8M734.1 88.8L728.9 81.7M734.1 88.8L739.6 81.7M728.9 81.7L728.9 74.6M739.6 81.7L735.9 74.6M739.6 81.7L743.2 74.6M728.9 74.6L728.9 67.5M735.9 74.6L735.9 67.5M743.2 74.6L743.2 67.5" stroke="#8c8c8c" stroke-width="0.8" fill="none"/><rect x="731.7" y="100.6" width="4.8" height="4.8" fill="#0000fa"/><rect x="731.7" y="93.5" width="4.8" height="4.8" fill="#0000fa"/><circle cx="734.1" cy="88.8" r="2" fill="#00c832" stroke="#00a028" stroke-width="0.5"/><circle cx="728.9" cy="81.7" r="2" fill="#00c832" stroke="#00a028" stroke-width="0.5"/><circle cx="739.6" cy="81.7" r="2" fill="#00c832" stroke="#00a028" stroke-width="0.5"/><circle cx="728.9" cy="74.6" r="2" fill="#00c832" stroke="#00a028" stroke-width="0.5"/><circle cx="735.9" cy="74.6" r="2" fill="#00c832" stroke="#00a028" stroke-width="0.5"/><circle cx="743.2" cy="74.6" r="2" fill="#00c832" stroke="#00a028" stroke-width="0.5"/><circle cx="728.9" cy="67.5" r="2" fill="#00c832" stroke="#00a028" stroke-width="0.5"/><circle cx="735.9" cy="67.5" r="2" fill="#00c832" stroke="#00a028" stroke-width="0.5"/><circle cx="743.2" cy="67.5" r="2" fill="#00c832" stroke="#00a028" stroke-width="0.5"/>
<path d="M764.8 90L764.8 75.8M764.8 90L772.5 90M764.8 75.8L761.1 68.7M764.8 75.8L768.4 68.7M761.1 68.7L761.1 61.6M768.4 68.7L768.4 61.6" stroke="#8c8c8c" stroke-width="0.8" fill="none"/><path d="M759 57.1L774.4 57.1M759 57.1L758.4 58.3M774.4 57.1L775 58.3M766.6 57.1L766.6 50" stroke="#b8b8b8" stroke-width="0.7" fill="none"/><rect x="762.4" y="87.6" width="4.8" height="4.8" fill="#0000fa"/><rect x="762.4" y="80.5" width="4.8" height="4.8" fill="#0000fa"/><circle cx="764.8" cy="75.8" r="2" fill="#00c832" stroke="#00a028" stroke-width="0.5"/><path d="M770.1 90L774.8 87.7L774.8 92.3Z" fill="#ff0000"/><rect x="758.8" y="59.2" width="4.8" height="4.8" fill="#0000fa"/><rect x="766.1" y="59.2" width="4.8" height="4.8" fill="#0000fa"/><circle cx="761.1" cy="68.7" r="2" fill="#00c832" stroke="#00a028" stroke-width="0.5"/><circle cx="768.4" cy="68.7" r="2" fill="#00c832" stroke="#00a028" stroke-width="0.5"/><circle cx="766.6" cy="50" r="2.1" fill="#ffff00" stroke="#b8a800" stroke-width="0.6"/>
<path d="M792 77.8L792 63.4M792 77.8L799.8 77.8M792 63.4L788.5 56.2M792 63.4L795.5 56.2M788.5 56.2L788.5 49M795.5 56.2L795.5 49M793.7 37.3L793.7 30.1" stroke="#8c8c8c" stroke-width="0.8" fill="none"/><path d="M786.6 44.5L801.2 44.5M786.6 44.5L786 45.7M801.2 44.5L801.8 45.7M793.7 44.5L793.7 37.3" stroke="#b8b8b8" stroke-width="0.7" fill="none"/><rect x="789.6" y="75.4" width="4.8" height="4.8" fill="#0000fa"/><rect x="789.6" y="68.2" width="4.8" height="4.8" fill="#0000fa"/><circle cx="792" cy="63.4" r="2" fill="#00c832" stroke="#00a028" stroke-width="0.5"/><path d="M797.4 77.8L802.2 75.5L802.2 80.1Z" fill="#ff0000"/><rect x="786.1" y="46.6" width="4.8" height="4.8" fill="#0000fa"/><rect x="793.2" y="46.6" width="4.8" height="4.8" fill="#0000fa"/><circle cx="788.5" cy="56.2" r="2" fill="#00c832" stroke="#00a028" stroke-width="0.5"/><circle cx="795.5" cy="56.2" r="2" fill="#00c832" stroke="#00a028" stroke-width="0.5"/><circle cx="793.7" cy="37.3" r="2.1" fill="#ffff00" stroke="#b8a800" stroke-width="0.6"/><path d="M793.7 27.6L796.2 30.1L793.7 32.6L791.2 30.1Z" fill="#c800c8"/>
<path d="M818.4 68.3L818.4 53.7M818.4 68.3L826.3 68.3M818.4 53.7L814.9 46.4M818.4 53.7L821.9 46.4M814.9 46.4L814.9 39.1M814.9 39.1L814.9 31.8M821.9 46.4L821.9 39.1M821.9 39.1L821.9 31.8" stroke="#8c8c8c" stroke-width="0.8" fill="none"/><path d="M812.5 27.2L827.8 27.2M812.5 27.2L811.9 28.4M827.8 27.2L828.4 28.4M820 27.2L820 19.9" stroke="#b8b8b8" stroke-width="0.7" fill="none"/><rect x="816" y="65.9" width="4.8" height="4.8" fill="#0000fa"/><rect x="816" y="58.6" width="4.8" height="4.8" fill="#0000fa"/><circle cx="818.4" cy="53.7" r="2.1" fill="#00c832" stroke="#00a028" stroke-width="0.5"/><path d="M823.9 68.3L828.7 66L828.7 70.6Z" fill="#ff0000"/><rect x="812.4" y="36.7" width="4.8" height="4.8" fill="#0000fa"/><circle cx="814.9" cy="31.8" r="2.1" fill="#ffff00" stroke="#b8a800" stroke-width="0.6"/><rect x="819.5" y="36.7" width="4.8" height="4.8" fill="#0000fa"/><circle cx="821.9" cy="31.8" r="2.1" fill="#ffff00" stroke="#b8a800" stroke-width="0.6"/><circle cx="814.9" cy="46.4" r="2.1" fill="#00c832" stroke="#00a028" stroke-width="0.5"/><circle cx="821.9" cy="46.4" r="2.1" fill="#00c832" stroke="#00a028" stroke-width="0.5"/><path d="M820 17.4L822.5 19.9L820 22.4L817.5 19.9Z" fill="#c800c8"/>
<path d="M845.6 58L845.6 43.5M845.6 58L853.4 58M845.6 43.5L842 36.3M845.6 43.5L849.2 36.3M842 36.3L842 29.1M842 29.1L842 14.6M849.2 36.3L849.2 29.1M849.2 29.1L849.2 14.6" stroke="#8c8c8c" stroke-width="0.8" fill="none"/><rect x="843.2" y="55.6" width="4.8" height="4.8" fill="#0000fa"/><rect x="843.2" y="48.4" width="4.8" height="4.8" fill="#0000fa"/><circle cx="845.6" cy="43.5" r="2" fill="#00c832" stroke="#00a028" stroke-width="0.5"/><path d="M851 58L855.8 55.7L855.8 60.3Z" fill="#ff0000"/><rect x="839.6" y="26.7" width="4.8" height="4.8" fill="#0000fa"/><circle cx="842" cy="21.9" r="2.1" fill="#ffff00" stroke="#b8a800" stroke-width="0.6"/><path d="M842 12.1L844.5 14.6L842 17.1L839.4 14.6Z" fill="#c800c8"/><rect x="846.9" y="26.7" width="4.8" height="4.8" fill="#0000fa"/><circle cx="849.2" cy="21.9" r="2.1" fill="#ffff00" stroke="#b8a800" stroke-width="0.6"/><path d="M849.2 12.1L851.8 14.6L849.2 17.1L846.7 14.6Z" fill="#c800c8"/><circle cx="842" cy="36.3" r="2" fill="#00c832" stroke="#00a028" stroke-width="0.5"/><circle cx="849.2" cy="36.3" r="2" fill="#00c832" stroke="#00a028" stroke-width="0.5"/>
<path d="M617.3 131.7L617.3 117M617.3 117L613.6 109.6M617.3 117L620.9 109.6M620.9 109.6L617.3 102.3M620.9 109.6L624.6 102.3" stroke="#8c8c8c" stroke-width="0.8" fill="none"/><rect x="614.9" y="129.3" width="4.8" height="4.8" fill="#0000fa"/><rect x="614.9" y="121.9" width="4.8" height="4.8" fill="#0000fa"/><circle cx="617.3" cy="117" r="2.1" fill="#00c832" stroke="#00a028" stroke-width="0.5"/><circle cx="613.6" cy="109.6" r="2.1" fill="#00c832" stroke="#00a028" stroke-width="0.5"/><circle cx="620.9" cy="109.6" r="2.1" fill="#00c832" stroke="#00a028" stroke-width="0.5"/><circle cx="617.3" cy="102.3" r="2.1" fill="#00c832" stroke="#00a028" stroke-width="0.5"/><circle cx="624.6" cy="102.3" r="2.1" fill="#00c832" stroke="#00a028" stroke-width="0.5"/>
<path d="M641.2 114.2L641.2 100M641.2 114.2L648.9 114.2M641.2 100L637.6 92.9M641.2 100L644.9 92.9M637.6 92.9L637.6 85.8M644.9 92.9L644.9 85.8" stroke="#8c8c8c" stroke-width="0.8" fill="none"/><rect x="638.8" y="111.8" width="4.8" height="4.8" fill="#0000fa"/><rect x="638.8" y="104.7" width="4.8" height="4.8" fill="#0000fa"/><circle cx="641.2" cy="100" r="2" fill="#00c832" stroke="#00a028" stroke-width="0.5"/><path d="M646.5 114.2L651.2 111.9L651.2 116.5Z" fill="#ff0000"/><rect x="635.2" y="83.4" width="4.8" height="4.8" fill="#0000fa"/><rect x="642.5" y="83.4" width="4.8" height="4.8" fill="#0000fa"/><circle cx="637.6" cy="92.9" r="2" fill="#00c832" stroke="#00a028" stroke-width="0.5"/><circle cx="644.9" cy="92.9" r="2" fill="#00c832" stroke="#00a028" stroke-width="0.5"/>
<path d="M575 99.4L575 85.1M575 85.1L571.5 78M575 85.1L578.5 78M578.5 78L575 70.8M578.5 78L581.9 70.8" stroke="#8c8c8c" stroke-width="0.8" fill="none"/><rect x="572.6" y="97" width="4.8" height="4.8" fill="#0000fa"/><rect x="572.6" y="89.9" width="4.8" height="4.8" fill="#0000fa"/><circle cx="575" cy="85.1" r="2" fill="#00c832" stroke="#00a028" stroke-width="0.5"/><circle cx="571.5" cy="78" r="2" fill="#00c832" stroke="#00a028" stroke-width="0.5"/><circle cx="578.5" cy="78" r="2" fill="#00c832" stroke="#00a028" stroke-width="0.5"/><circle cx="575" cy="70.8" r="2" fill="#00c832" stroke="#00a028" stroke-width="0.5"/><circle cx="581.9" cy="70.8" r="2" fill="#00c832" stroke="#00a028" stroke-width="0.5"/>
<path d="M600.9 83.8L600.9 69.6M600.9 69.6L595.5 62.5M600.9 69.6L606.6 62.5M595.5 62.5L595.5 55.4M606.6 62.5L602.8 55.4M606.6 62.5L610.4 55.4" stroke="#8c8c8c" stroke-width="0.8" fill="none"/><path d="M593.4 50.9L612.5 50.9M593.4 50.9L592.8 52.1M612.5 50.9L613.1 52.1M599.1 50.9L599.1 43.8M606.7 50.9L606.7 43.8" stroke="#b8b8b8" stroke-width="0.7" fill="none"/><rect x="598.5" y="81.4" width="4.8" height="4.8" fill="#0000fa"/><rect x="598.5" y="74.3" width="4.8" height="4.8" fill="#0000fa"/><circle cx="600.9" cy="69.6" r="2" fill="#00c832" stroke="#00a028" stroke-width="0.5"/><circle cx="595.5" cy="62.5" r="2" fill="#00c832" stroke="#00a028" stroke-width="0.5"/><circle cx="606.6" cy="62.5" r="2" fill="#00c832" stroke="#00a028" stroke-width="0.5"/><circle cx="595.5" cy="55.4" r="2" fill="#00c832" stroke="#00a028" stroke-width="0.5"/><circle cx="602.8" cy="55.4" r="2" fill="#00c832" stroke="#00a028" stroke-width="0.5"/><circle cx="610.4" cy="55.4" r="2" fill="#00c832" stroke="#00a028" stroke-width="0.5"/><circle cx="599.1" cy="43.8" r="2" fill="#00c832" stroke="#00a028" stroke-width="0.5"/><circle cx="606.7" cy="43.8" r="2" fill="#00c832" stroke="#00a028" stroke-width="0.5"/>
<path d="M642.4 375.4V386.5M661.3 373V395.3M683.6 383.5V394.5L688.6 404.9L694.2 394.5" stroke="#666" stroke-width="0.9" fill="none"/><rect x="622.6" y="370" width="6.8" height="6.8" fill="#ffff00" stroke="#7a6a00" stroke-width="0.6"/><circle cx="642.4" cy="375.4" r="3.4" fill="#ffff00" stroke="#7a6a00" stroke-width="0.6"/><rect x="639" y="383.1" width="6.8" height="6.8" fill="#ffff00" stroke="#7a6a00" stroke-width="0.6"/><path d="M661.3 369.8L664.5 373L661.3 376.2L658 373Z" fill="#c800c8" stroke="#7a007a" stroke-width="0.4"/><circle cx="661.3" cy="384.3" r="3.4" fill="#ffff00" stroke="#7a6a00" stroke-width="0.6"/><rect x="657.9" y="391.9" width="6.8" height="6.8" fill="#ffff00" stroke="#7a6a00" stroke-width="0.6"/><path d="M683.6 380.2L686.9 383.5L683.6 386.8L680.4 383.5Z" fill="#c800c8" stroke="#7a007a" stroke-width="0.4"/><circle cx="683.6" cy="394.5" r="3.4" fill="#ffff00" stroke="#7a6a00" stroke-width="0.6"/><path d="M694.2 391.2L697.5 394.5L694.2 397.8L691 394.5Z" fill="#c800c8" stroke="#7a007a" stroke-width="0.4"/><rect x="685.2" y="401.5" width="6.8" height="6.8" fill="#ffff00" stroke="#7a6a00" stroke-width="0.6"/></svg></body></html>
